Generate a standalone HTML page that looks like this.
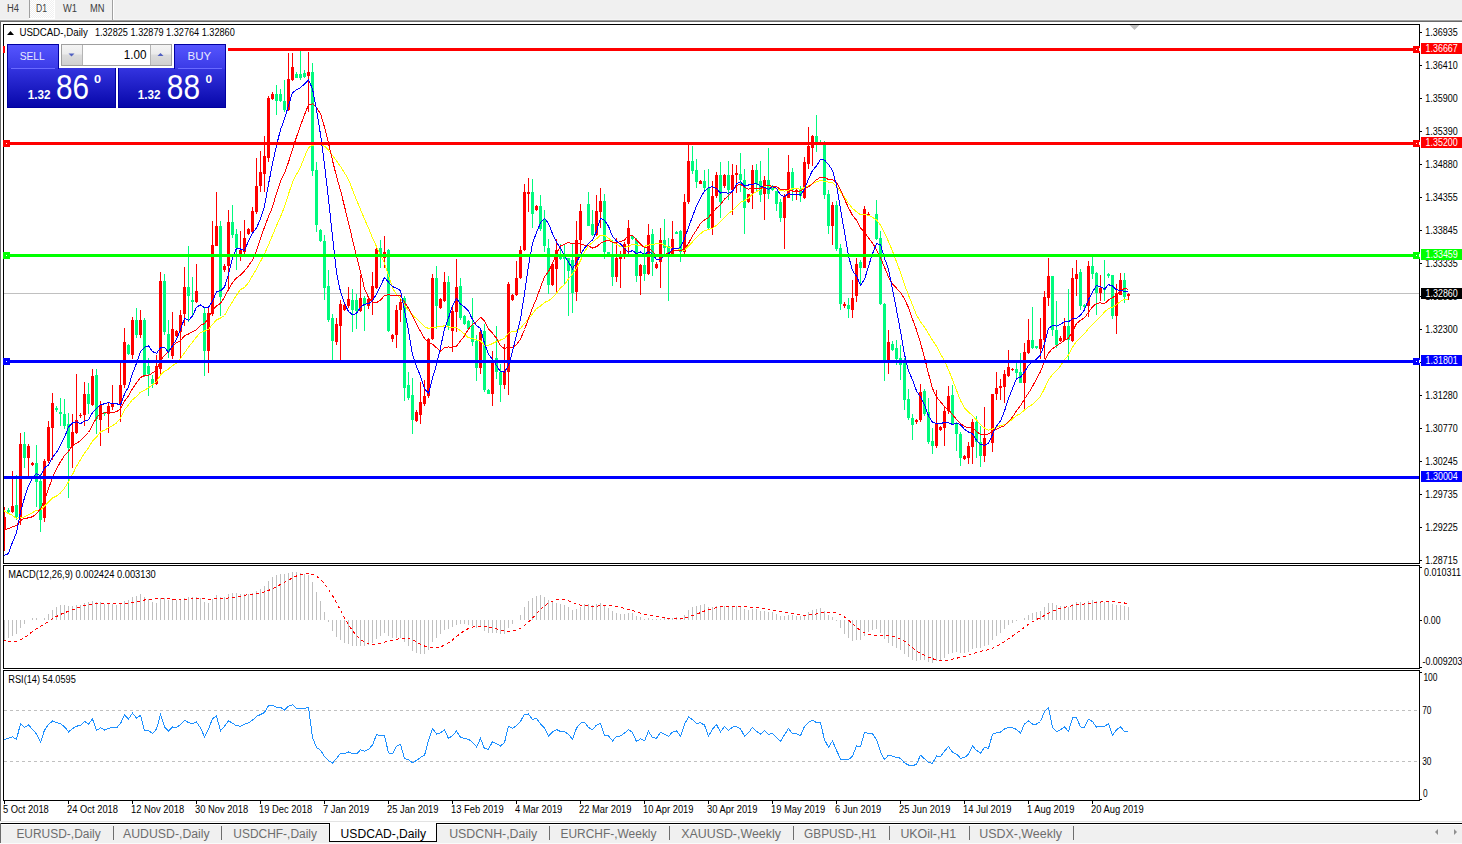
<!DOCTYPE html><html><head><meta charset="utf-8"><style>
html,body{margin:0;padding:0;background:#fff;overflow:hidden}
svg{display:block} text{font-family:"Liberation Sans",sans-serif}
</style></head><body><svg width="1462" height="844" viewBox="0 0 1462 844" font-family="Liberation Sans"><rect x="0" y="0" width="1462" height="844" fill="#fff" /><rect x="0" y="0" width="1462" height="19" fill="#f0f0f0" /><rect x="0" y="19" width="1462" height="1" fill="#f5f5f5" /><rect x="0" y="20" width="1462" height="1" fill="#a0a0a0" /><rect x="0" y="21" width="1462" height="1" fill="#696969" /><defs><pattern id="dith" width="2" height="2" patternUnits="userSpaceOnUse"><rect width="2" height="2" fill="#f0f0f0"/><rect width="1" height="1" fill="#fff"/><rect x="1" y="1" width="1" height="1" fill="#fff"/></pattern></defs><rect x="30" y="0" width="24" height="18" fill="url(#dith)" /><rect x="29" y="0" width="1" height="18" fill="#a0a0a0" /><rect x="112" y="0" width="1" height="20" fill="#a0a0a0" /><rect x="113" y="0" width="1" height="19" fill="#fff" /><rect x="29" y="18" width="26" height="1" fill="#fff" /><rect x="54" y="0" width="1" height="18" fill="#fff" /><text x="7" y="12.4" font-size="10" fill="#404040" textLength="12" lengthAdjust="spacingAndGlyphs" >H4</text><text x="36" y="12.4" font-size="10" fill="#404040" textLength="11" lengthAdjust="spacingAndGlyphs" >D1</text><text x="63" y="12.4" font-size="10" fill="#404040" textLength="14" lengthAdjust="spacingAndGlyphs" >W1</text><text x="90" y="12.4" font-size="10" fill="#404040" textLength="14.5" lengthAdjust="spacingAndGlyphs" >MN</text><rect x="0" y="22" width="1" height="800" fill="#6a6a6a" /><rect x="3" y="24" width="1417" height="1" fill="#000" /><rect x="3" y="563" width="1417" height="1" fill="#000" /><rect x="3" y="24" width="1" height="540" fill="#000" /><rect x="1419" y="24" width="1" height="540" fill="#000" /><rect x="3" y="565" width="1417" height="1" fill="#000" /><rect x="3" y="668" width="1417" height="1" fill="#000" /><rect x="3" y="565" width="1" height="104" fill="#000" /><rect x="1419" y="565" width="1" height="104" fill="#000" /><rect x="3" y="670" width="1417" height="1" fill="#000" /><rect x="3" y="800" width="1417" height="1" fill="#000" /><rect x="3" y="670" width="1" height="131" fill="#000" /><rect x="1419" y="670" width="1" height="131" fill="#000" /><defs><clipPath id="cm"><rect x="4" y="25" width="1415" height="538"/></clipPath><clipPath id="cmacd"><rect x="4" y="566" width="1415" height="102"/></clipPath><clipPath id="crsi"><rect x="4" y="671" width="1415" height="129"/></clipPath></defs><g clip-path="url(#cm)" shape-rendering="crispEdges"><rect x="4" y="293" width="1415" height="1" fill="#c0c0c0" /><rect x="4" y="507" width="1" height="44" fill="#ff0000" /><rect x="3" y="517" width="3" height="12" fill="#ff0000" /><rect x="8" y="508" width="1" height="5" fill="#00fa7e" /><rect x="7" y="510" width="3" height="2" fill="#00fa7e" /><rect x="12" y="471" width="1" height="42" fill="#ff0000" /><rect x="11" y="506" width="3" height="6" fill="#ff0000" /><rect x="16" y="475" width="1" height="45" fill="#00fa7e" /><rect x="15" y="505" width="3" height="12" fill="#00fa7e" /><rect x="20" y="433" width="1" height="92" fill="#ff0000" /><rect x="19" y="444" width="3" height="73" fill="#ff0000" /><rect x="24" y="432" width="1" height="36" fill="#00fa7e" /><rect x="23" y="444" width="3" height="14" fill="#00fa7e" /><rect x="28" y="444" width="1" height="32" fill="#ff0000" /><rect x="27" y="446" width="3" height="12" fill="#ff0000" /><rect x="32" y="462" width="1" height="4" fill="#ff0000" /><rect x="31" y="463" width="3" height="2" fill="#ff0000" /><rect x="36" y="445" width="1" height="62" fill="#00fa7e" /><rect x="35" y="463" width="3" height="19" fill="#00fa7e" /><rect x="40" y="474" width="1" height="58" fill="#00fa7e" /><rect x="39" y="481" width="3" height="39" fill="#00fa7e" /><rect x="44" y="459" width="1" height="63" fill="#ff0000" /><rect x="43" y="461" width="3" height="57" fill="#ff0000" /><rect x="48" y="421" width="1" height="42" fill="#ff0000" /><rect x="47" y="427" width="3" height="34" fill="#ff0000" /><rect x="52" y="393" width="1" height="67" fill="#ff0000" /><rect x="51" y="403" width="3" height="25" fill="#ff0000" /><rect x="56" y="406" width="1" height="6" fill="#00fa7e" /><rect x="55" y="408" width="3" height="2" fill="#00fa7e" /><rect x="60" y="398" width="1" height="28" fill="#00fa7e" /><rect x="59" y="412" width="3" height="2" fill="#00fa7e" /><rect x="64" y="399" width="1" height="30" fill="#00fa7e" /><rect x="63" y="414" width="3" height="12" fill="#00fa7e" /><rect x="68" y="413" width="1" height="85" fill="#00fa7e" /><rect x="67" y="424" width="3" height="24" fill="#00fa7e" /><rect x="72" y="414" width="1" height="54" fill="#ff0000" /><rect x="71" y="432" width="3" height="14" fill="#ff0000" /><rect x="76" y="374" width="1" height="60" fill="#ff0000" /><rect x="75" y="420" width="3" height="13" fill="#ff0000" /><rect x="80" y="413" width="1" height="5" fill="#ff0000" /><rect x="79" y="415" width="3" height="1" fill="#ff0000" /><rect x="84" y="382" width="1" height="44" fill="#ff0000" /><rect x="83" y="394" width="3" height="21" fill="#ff0000" /><rect x="88" y="383" width="1" height="31" fill="#00fa7e" /><rect x="87" y="394" width="3" height="10" fill="#00fa7e" /><rect x="92" y="369" width="1" height="37" fill="#ff0000" /><rect x="91" y="376" width="3" height="29" fill="#ff0000" /><rect x="96" y="369" width="1" height="65" fill="#00fa7e" /><rect x="95" y="375" width="3" height="44" fill="#00fa7e" /><rect x="100" y="401" width="1" height="45" fill="#ff0000" /><rect x="99" y="405" width="3" height="15" fill="#ff0000" /><rect x="104" y="412" width="1" height="4" fill="#00fa7e" /><rect x="103" y="412" width="3" height="2" fill="#00fa7e" /><rect x="108" y="402" width="1" height="31" fill="#ff0000" /><rect x="107" y="406" width="3" height="8" fill="#ff0000" /><rect x="112" y="385" width="1" height="25" fill="#ff0000" /><rect x="111" y="403" width="3" height="4" fill="#ff0000" /><rect x="120" y="362" width="1" height="60" fill="#ff0000" /><rect x="119" y="385" width="3" height="20" fill="#ff0000" /><rect x="124" y="328" width="1" height="60" fill="#ff0000" /><rect x="123" y="342" width="3" height="43" fill="#ff0000" /><rect x="128" y="344" width="1" height="11" fill="#00fa7e" /><rect x="127" y="345" width="3" height="9" fill="#00fa7e" /><rect x="132" y="317" width="1" height="42" fill="#ff0000" /><rect x="131" y="320" width="3" height="35" fill="#ff0000" /><rect x="136" y="308" width="1" height="30" fill="#00fa7e" /><rect x="135" y="320" width="3" height="15" fill="#00fa7e" /><rect x="140" y="310" width="1" height="28" fill="#ff0000" /><rect x="139" y="320" width="3" height="15" fill="#ff0000" /><rect x="144" y="318" width="1" height="59" fill="#00fa7e" /><rect x="143" y="320" width="3" height="55" fill="#00fa7e" /><rect x="148" y="358" width="1" height="38" fill="#00fa7e" /><rect x="147" y="366" width="3" height="8" fill="#00fa7e" /><rect x="152" y="375" width="1" height="13" fill="#00fa7e" /><rect x="151" y="379" width="3" height="5" fill="#00fa7e" /><rect x="156" y="355" width="1" height="30" fill="#ff0000" /><rect x="155" y="366" width="3" height="18" fill="#ff0000" /><rect x="160" y="272" width="1" height="103" fill="#ff0000" /><rect x="159" y="281" width="3" height="88" fill="#ff0000" /><rect x="164" y="274" width="1" height="61" fill="#00fa7e" /><rect x="163" y="281" width="3" height="51" fill="#00fa7e" /><rect x="168" y="320" width="1" height="38" fill="#00fa7e" /><rect x="167" y="334" width="3" height="18" fill="#00fa7e" /><rect x="172" y="312" width="1" height="47" fill="#ff0000" /><rect x="171" y="329" width="3" height="27" fill="#ff0000" /><rect x="176" y="330" width="1" height="7" fill="#ff0000" /><rect x="175" y="331" width="3" height="5" fill="#ff0000" /><rect x="180" y="310" width="1" height="49" fill="#ff0000" /><rect x="179" y="315" width="3" height="17" fill="#ff0000" /><rect x="184" y="267" width="1" height="59" fill="#ff0000" /><rect x="183" y="287" width="3" height="27" fill="#ff0000" /><rect x="188" y="246" width="1" height="76" fill="#00fa7e" /><rect x="187" y="287" width="3" height="9" fill="#00fa7e" /><rect x="192" y="277" width="1" height="39" fill="#00fa7e" /><rect x="191" y="300" width="3" height="2" fill="#00fa7e" /><rect x="196" y="264" width="1" height="39" fill="#ff0000" /><rect x="195" y="291" width="3" height="11" fill="#ff0000" /><rect x="204" y="307" width="1" height="69" fill="#00fa7e" /><rect x="203" y="313" width="3" height="38" fill="#00fa7e" /><rect x="208" y="308" width="1" height="65" fill="#ff0000" /><rect x="207" y="313" width="3" height="38" fill="#ff0000" /><rect x="212" y="221" width="1" height="95" fill="#ff0000" /><rect x="211" y="245" width="3" height="69" fill="#ff0000" /><rect x="216" y="192" width="1" height="54" fill="#ff0000" /><rect x="215" y="226" width="3" height="20" fill="#ff0000" /><rect x="220" y="221" width="1" height="95" fill="#00fa7e" /><rect x="219" y="226" width="3" height="71" fill="#00fa7e" /><rect x="224" y="264" width="1" height="8" fill="#ff0000" /><rect x="223" y="266" width="3" height="4" fill="#ff0000" /><rect x="228" y="210" width="1" height="79" fill="#ff0000" /><rect x="227" y="222" width="3" height="44" fill="#ff0000" /><rect x="232" y="205" width="1" height="33" fill="#00fa7e" /><rect x="231" y="222" width="3" height="13" fill="#00fa7e" /><rect x="236" y="229" width="1" height="41" fill="#00fa7e" /><rect x="235" y="234" width="3" height="14" fill="#00fa7e" /><rect x="240" y="231" width="1" height="30" fill="#ff0000" /><rect x="239" y="250" width="3" height="4" fill="#ff0000" /><rect x="244" y="220" width="1" height="34" fill="#ff0000" /><rect x="243" y="238" width="3" height="14" fill="#ff0000" /><rect x="248" y="228" width="1" height="7" fill="#ff0000" /><rect x="247" y="229" width="3" height="5" fill="#ff0000" /><rect x="252" y="207" width="1" height="27" fill="#ff0000" /><rect x="251" y="211" width="3" height="21" fill="#ff0000" /><rect x="256" y="158" width="1" height="56" fill="#ff0000" /><rect x="255" y="186" width="3" height="26" fill="#ff0000" /><rect x="260" y="151" width="1" height="41" fill="#ff0000" /><rect x="259" y="172" width="3" height="14" fill="#ff0000" /><rect x="264" y="136" width="1" height="56" fill="#ff0000" /><rect x="263" y="156" width="3" height="18" fill="#ff0000" /><rect x="268" y="96" width="1" height="66" fill="#ff0000" /><rect x="267" y="98" width="3" height="60" fill="#ff0000" /><rect x="272" y="92" width="1" height="8" fill="#ff0000" /><rect x="271" y="94" width="3" height="5" fill="#ff0000" /><rect x="276" y="85" width="1" height="30" fill="#00fa7e" /><rect x="275" y="94" width="3" height="7" fill="#00fa7e" /><rect x="280" y="89" width="1" height="13" fill="#00fa7e" /><rect x="279" y="94" width="3" height="7" fill="#00fa7e" /><rect x="284" y="80" width="1" height="32" fill="#00fa7e" /><rect x="283" y="101" width="3" height="9" fill="#00fa7e" /><rect x="288" y="53" width="1" height="58" fill="#ff0000" /><rect x="287" y="79" width="3" height="31" fill="#ff0000" /><rect x="292" y="53" width="1" height="28" fill="#ff0000" /><rect x="291" y="67" width="3" height="13" fill="#ff0000" /><rect x="296" y="72" width="1" height="6" fill="#00fa7e" /><rect x="295" y="74" width="3" height="4" fill="#00fa7e" /><rect x="300" y="51" width="1" height="29" fill="#00fa7e" /><rect x="299" y="74" width="3" height="4" fill="#00fa7e" /><rect x="304" y="70" width="1" height="8" fill="#00fa7e" /><rect x="303" y="73" width="3" height="4" fill="#00fa7e" /><rect x="308" y="52" width="1" height="60" fill="#ff0000" /><rect x="307" y="72" width="3" height="4" fill="#ff0000" /><rect x="312" y="63" width="1" height="113" fill="#00fa7e" /><rect x="311" y="72" width="3" height="99" fill="#00fa7e" /><rect x="316" y="162" width="1" height="70" fill="#00fa7e" /><rect x="315" y="170" width="3" height="55" fill="#00fa7e" /><rect x="320" y="229" width="1" height="13" fill="#00fa7e" /><rect x="319" y="230" width="3" height="11" fill="#00fa7e" /><rect x="324" y="235" width="1" height="65" fill="#00fa7e" /><rect x="323" y="241" width="3" height="47" fill="#00fa7e" /><rect x="328" y="270" width="1" height="52" fill="#00fa7e" /><rect x="327" y="286" width="3" height="34" fill="#00fa7e" /><rect x="332" y="314" width="1" height="46" fill="#00fa7e" /><rect x="331" y="318" width="3" height="23" fill="#00fa7e" /><rect x="336" y="318" width="1" height="27" fill="#ff0000" /><rect x="335" y="324" width="3" height="18" fill="#ff0000" /><rect x="340" y="300" width="1" height="60" fill="#ff0000" /><rect x="339" y="304" width="3" height="22" fill="#ff0000" /><rect x="344" y="302" width="1" height="9" fill="#ff0000" /><rect x="343" y="305" width="3" height="5" fill="#ff0000" /><rect x="348" y="287" width="1" height="21" fill="#ff0000" /><rect x="347" y="299" width="3" height="7" fill="#ff0000" /><rect x="352" y="289" width="1" height="43" fill="#00fa7e" /><rect x="351" y="300" width="3" height="10" fill="#00fa7e" /><rect x="356" y="294" width="1" height="35" fill="#00fa7e" /><rect x="355" y="300" width="3" height="11" fill="#00fa7e" /><rect x="360" y="275" width="1" height="37" fill="#ff0000" /><rect x="359" y="298" width="3" height="13" fill="#ff0000" /><rect x="364" y="296" width="1" height="35" fill="#00fa7e" /><rect x="363" y="298" width="3" height="6" fill="#00fa7e" /><rect x="368" y="298" width="1" height="11" fill="#ff0000" /><rect x="367" y="299" width="3" height="7" fill="#ff0000" /><rect x="372" y="272" width="1" height="43" fill="#ff0000" /><rect x="371" y="286" width="3" height="14" fill="#ff0000" /><rect x="376" y="248" width="1" height="41" fill="#ff0000" /><rect x="375" y="249" width="3" height="39" fill="#ff0000" /><rect x="380" y="240" width="1" height="28" fill="#00fa7e" /><rect x="379" y="248" width="3" height="6" fill="#00fa7e" /><rect x="384" y="236" width="1" height="32" fill="#ff0000" /><rect x="383" y="252" width="3" height="6" fill="#ff0000" /><rect x="388" y="249" width="1" height="83" fill="#00fa7e" /><rect x="387" y="250" width="3" height="81" fill="#00fa7e" /><rect x="392" y="334" width="1" height="8" fill="#ff0000" /><rect x="391" y="335" width="3" height="4" fill="#ff0000" /><rect x="396" y="305" width="1" height="43" fill="#ff0000" /><rect x="395" y="310" width="3" height="25" fill="#ff0000" /><rect x="400" y="299" width="1" height="23" fill="#ff0000" /><rect x="399" y="302" width="3" height="8" fill="#ff0000" /><rect x="404" y="296" width="1" height="105" fill="#00fa7e" /><rect x="403" y="298" width="3" height="90" fill="#00fa7e" /><rect x="408" y="372" width="1" height="28" fill="#00fa7e" /><rect x="407" y="385" width="3" height="13" fill="#00fa7e" /><rect x="412" y="378" width="1" height="56" fill="#00fa7e" /><rect x="411" y="395" width="3" height="25" fill="#00fa7e" /><rect x="416" y="410" width="1" height="12" fill="#ff0000" /><rect x="415" y="412" width="3" height="9" fill="#ff0000" /><rect x="420" y="382" width="1" height="42" fill="#ff0000" /><rect x="419" y="402" width="3" height="13" fill="#ff0000" /><rect x="424" y="380" width="1" height="26" fill="#ff0000" /><rect x="423" y="396" width="3" height="8" fill="#ff0000" /><rect x="428" y="338" width="1" height="60" fill="#ff0000" /><rect x="427" y="339" width="3" height="57" fill="#ff0000" /><rect x="432" y="274" width="1" height="66" fill="#ff0000" /><rect x="431" y="278" width="3" height="61" fill="#ff0000" /><rect x="436" y="266" width="1" height="63" fill="#00fa7e" /><rect x="435" y="278" width="3" height="28" fill="#00fa7e" /><rect x="440" y="298" width="1" height="11" fill="#ff0000" /><rect x="439" y="299" width="3" height="9" fill="#ff0000" /><rect x="444" y="272" width="1" height="30" fill="#ff0000" /><rect x="443" y="282" width="3" height="19" fill="#ff0000" /><rect x="448" y="276" width="1" height="54" fill="#00fa7e" /><rect x="447" y="282" width="3" height="44" fill="#00fa7e" /><rect x="452" y="307" width="1" height="45" fill="#ff0000" /><rect x="451" y="311" width="3" height="20" fill="#ff0000" /><rect x="456" y="259" width="1" height="73" fill="#ff0000" /><rect x="455" y="287" width="3" height="25" fill="#ff0000" /><rect x="460" y="278" width="1" height="42" fill="#00fa7e" /><rect x="459" y="286" width="3" height="32" fill="#00fa7e" /><rect x="464" y="315" width="1" height="10" fill="#00fa7e" /><rect x="463" y="316" width="3" height="8" fill="#00fa7e" /><rect x="468" y="320" width="1" height="10" fill="#00fa7e" /><rect x="467" y="321" width="3" height="8" fill="#00fa7e" /><rect x="472" y="298" width="1" height="48" fill="#00fa7e" /><rect x="471" y="325" width="3" height="17" fill="#00fa7e" /><rect x="476" y="335" width="1" height="46" fill="#00fa7e" /><rect x="475" y="341" width="3" height="27" fill="#00fa7e" /><rect x="480" y="328" width="1" height="46" fill="#ff0000" /><rect x="479" y="332" width="3" height="36" fill="#ff0000" /><rect x="484" y="324" width="1" height="68" fill="#00fa7e" /><rect x="483" y="331" width="3" height="59" fill="#00fa7e" /><rect x="488" y="389" width="1" height="5" fill="#00fa7e" /><rect x="487" y="390" width="3" height="4" fill="#00fa7e" /><rect x="492" y="351" width="1" height="55" fill="#ff0000" /><rect x="491" y="360" width="3" height="34" fill="#ff0000" /><rect x="496" y="326" width="1" height="53" fill="#00fa7e" /><rect x="495" y="358" width="3" height="14" fill="#00fa7e" /><rect x="500" y="364" width="1" height="38" fill="#00fa7e" /><rect x="499" y="372" width="3" height="13" fill="#00fa7e" /><rect x="504" y="344" width="1" height="45" fill="#ff0000" /><rect x="503" y="371" width="3" height="14" fill="#ff0000" /><rect x="508" y="282" width="1" height="113" fill="#ff0000" /><rect x="507" y="284" width="3" height="88" fill="#ff0000" /><rect x="512" y="294" width="1" height="7" fill="#ff0000" /><rect x="511" y="295" width="3" height="5" fill="#ff0000" /><rect x="516" y="261" width="1" height="35" fill="#ff0000" /><rect x="515" y="278" width="3" height="17" fill="#ff0000" /><rect x="520" y="246" width="1" height="33" fill="#ff0000" /><rect x="519" y="250" width="3" height="28" fill="#ff0000" /><rect x="524" y="184" width="1" height="67" fill="#ff0000" /><rect x="523" y="192" width="3" height="58" fill="#ff0000" /><rect x="528" y="178" width="1" height="34" fill="#ff0000" /><rect x="527" y="192" width="3" height="2" fill="#ff0000" /><rect x="532" y="179" width="1" height="49" fill="#00fa7e" /><rect x="531" y="192" width="3" height="22" fill="#00fa7e" /><rect x="536" y="205" width="1" height="6" fill="#ff0000" /><rect x="535" y="206" width="3" height="4" fill="#ff0000" /><rect x="540" y="195" width="1" height="36" fill="#00fa7e" /><rect x="539" y="206" width="3" height="23" fill="#00fa7e" /><rect x="544" y="210" width="1" height="42" fill="#00fa7e" /><rect x="543" y="219" width="3" height="27" fill="#00fa7e" /><rect x="548" y="239" width="1" height="55" fill="#00fa7e" /><rect x="547" y="248" width="3" height="37" fill="#00fa7e" /><rect x="552" y="262" width="1" height="24" fill="#ff0000" /><rect x="551" y="264" width="3" height="21" fill="#ff0000" /><rect x="556" y="239" width="1" height="53" fill="#ff0000" /><rect x="555" y="250" width="3" height="19" fill="#ff0000" /><rect x="560" y="244" width="1" height="16" fill="#00fa7e" /><rect x="559" y="255" width="3" height="4" fill="#00fa7e" /><rect x="564" y="244" width="1" height="41" fill="#00fa7e" /><rect x="563" y="256" width="3" height="3" fill="#00fa7e" /><rect x="568" y="258" width="1" height="58" fill="#00fa7e" /><rect x="567" y="258" width="3" height="13" fill="#00fa7e" /><rect x="572" y="244" width="1" height="69" fill="#00fa7e" /><rect x="571" y="260" width="3" height="33" fill="#00fa7e" /><rect x="576" y="221" width="1" height="80" fill="#ff0000" /><rect x="575" y="240" width="3" height="52" fill="#ff0000" /><rect x="580" y="204" width="1" height="49" fill="#ff0000" /><rect x="579" y="211" width="3" height="29" fill="#ff0000" /><rect x="588" y="192" width="1" height="34" fill="#00fa7e" /><rect x="587" y="204" width="3" height="22" fill="#00fa7e" /><rect x="592" y="210" width="1" height="26" fill="#00fa7e" /><rect x="591" y="224" width="3" height="11" fill="#00fa7e" /><rect x="596" y="195" width="1" height="41" fill="#ff0000" /><rect x="595" y="211" width="3" height="24" fill="#ff0000" /><rect x="600" y="188" width="1" height="40" fill="#ff0000" /><rect x="599" y="201" width="3" height="11" fill="#ff0000" /><rect x="604" y="194" width="1" height="65" fill="#00fa7e" /><rect x="603" y="201" width="3" height="51" fill="#00fa7e" /><rect x="608" y="252" width="1" height="2" fill="#00fa7e" /><rect x="607" y="252" width="3" height="2" fill="#00fa7e" /><rect x="612" y="240" width="1" height="46" fill="#00fa7e" /><rect x="611" y="254" width="3" height="23" fill="#00fa7e" /><rect x="616" y="238" width="1" height="44" fill="#ff0000" /><rect x="615" y="258" width="3" height="19" fill="#ff0000" /><rect x="620" y="251" width="1" height="37" fill="#ff0000" /><rect x="619" y="255" width="3" height="4" fill="#ff0000" /><rect x="624" y="242" width="1" height="17" fill="#ff0000" /><rect x="623" y="244" width="3" height="10" fill="#ff0000" /><rect x="628" y="220" width="1" height="34" fill="#ff0000" /><rect x="627" y="228" width="3" height="16" fill="#ff0000" /><rect x="632" y="235" width="1" height="5" fill="#00fa7e" /><rect x="631" y="236" width="3" height="3" fill="#00fa7e" /><rect x="636" y="238" width="1" height="44" fill="#00fa7e" /><rect x="635" y="240" width="3" height="36" fill="#00fa7e" /><rect x="640" y="264" width="1" height="31" fill="#ff0000" /><rect x="639" y="265" width="3" height="11" fill="#ff0000" /><rect x="644" y="246" width="1" height="35" fill="#00fa7e" /><rect x="643" y="265" width="3" height="9" fill="#00fa7e" /><rect x="648" y="224" width="1" height="51" fill="#ff0000" /><rect x="647" y="235" width="3" height="39" fill="#ff0000" /><rect x="652" y="229" width="1" height="47" fill="#00fa7e" /><rect x="651" y="234" width="3" height="28" fill="#00fa7e" /><rect x="656" y="262" width="1" height="7" fill="#ff0000" /><rect x="655" y="264" width="3" height="4" fill="#ff0000" /><rect x="660" y="228" width="1" height="60" fill="#ff0000" /><rect x="659" y="240" width="3" height="22" fill="#ff0000" /><rect x="664" y="219" width="1" height="36" fill="#00fa7e" /><rect x="663" y="240" width="3" height="8" fill="#00fa7e" /><rect x="668" y="238" width="1" height="63" fill="#00fa7e" /><rect x="667" y="246" width="3" height="9" fill="#00fa7e" /><rect x="672" y="221" width="1" height="34" fill="#ff0000" /><rect x="671" y="239" width="3" height="15" fill="#ff0000" /><rect x="676" y="231" width="1" height="3" fill="#00fa7e" /><rect x="675" y="232" width="3" height="2" fill="#00fa7e" /><rect x="680" y="230" width="1" height="32" fill="#00fa7e" /><rect x="679" y="231" width="3" height="21" fill="#00fa7e" /><rect x="684" y="194" width="1" height="60" fill="#ff0000" /><rect x="683" y="202" width="3" height="50" fill="#ff0000" /><rect x="688" y="145" width="1" height="59" fill="#ff0000" /><rect x="687" y="161" width="3" height="41" fill="#ff0000" /><rect x="692" y="146" width="1" height="28" fill="#00fa7e" /><rect x="691" y="161" width="3" height="10" fill="#00fa7e" /><rect x="696" y="159" width="1" height="29" fill="#00fa7e" /><rect x="695" y="170" width="3" height="12" fill="#00fa7e" /><rect x="700" y="180" width="1" height="4" fill="#ff0000" /><rect x="699" y="181" width="3" height="3" fill="#ff0000" /><rect x="704" y="170" width="1" height="21" fill="#00fa7e" /><rect x="703" y="181" width="3" height="7" fill="#00fa7e" /><rect x="708" y="169" width="1" height="60" fill="#00fa7e" /><rect x="707" y="188" width="3" height="40" fill="#00fa7e" /><rect x="712" y="181" width="1" height="54" fill="#ff0000" /><rect x="711" y="196" width="3" height="32" fill="#ff0000" /><rect x="716" y="172" width="1" height="26" fill="#ff0000" /><rect x="715" y="175" width="3" height="21" fill="#ff0000" /><rect x="720" y="162" width="1" height="56" fill="#00fa7e" /><rect x="719" y="175" width="3" height="27" fill="#00fa7e" /><rect x="724" y="174" width="1" height="14" fill="#ff0000" /><rect x="723" y="175" width="3" height="11" fill="#ff0000" /><rect x="728" y="161" width="1" height="39" fill="#00fa7e" /><rect x="727" y="175" width="3" height="15" fill="#00fa7e" /><rect x="732" y="164" width="1" height="51" fill="#ff0000" /><rect x="731" y="175" width="3" height="15" fill="#ff0000" /><rect x="736" y="165" width="1" height="28" fill="#ff0000" /><rect x="735" y="173" width="3" height="2" fill="#ff0000" /><rect x="740" y="153" width="1" height="39" fill="#00fa7e" /><rect x="739" y="174" width="3" height="6" fill="#00fa7e" /><rect x="744" y="169" width="1" height="65" fill="#00fa7e" /><rect x="743" y="180" width="3" height="28" fill="#00fa7e" /><rect x="748" y="194" width="1" height="9" fill="#ff0000" /><rect x="747" y="194" width="3" height="8" fill="#ff0000" /><rect x="752" y="165" width="1" height="44" fill="#ff0000" /><rect x="751" y="170" width="3" height="23" fill="#ff0000" /><rect x="756" y="164" width="1" height="27" fill="#00fa7e" /><rect x="755" y="170" width="3" height="14" fill="#00fa7e" /><rect x="760" y="161" width="1" height="41" fill="#00fa7e" /><rect x="759" y="181" width="3" height="14" fill="#00fa7e" /><rect x="764" y="176" width="1" height="44" fill="#ff0000" /><rect x="763" y="180" width="3" height="14" fill="#ff0000" /><rect x="768" y="148" width="1" height="51" fill="#00fa7e" /><rect x="767" y="180" width="3" height="14" fill="#00fa7e" /><rect x="772" y="185" width="1" height="6" fill="#00fa7e" /><rect x="771" y="186" width="3" height="4" fill="#00fa7e" /><rect x="776" y="191" width="1" height="20" fill="#00fa7e" /><rect x="775" y="191" width="3" height="13" fill="#00fa7e" /><rect x="780" y="199" width="1" height="23" fill="#00fa7e" /><rect x="779" y="202" width="3" height="16" fill="#00fa7e" /><rect x="784" y="194" width="1" height="55" fill="#ff0000" /><rect x="783" y="196" width="3" height="22" fill="#ff0000" /><rect x="788" y="155" width="1" height="43" fill="#ff0000" /><rect x="787" y="172" width="3" height="26" fill="#ff0000" /><rect x="792" y="168" width="1" height="33" fill="#00fa7e" /><rect x="791" y="172" width="3" height="18" fill="#00fa7e" /><rect x="796" y="189" width="1" height="11" fill="#ff0000" /><rect x="795" y="190" width="3" height="2" fill="#ff0000" /><rect x="800" y="186" width="1" height="16" fill="#00fa7e" /><rect x="799" y="189" width="3" height="7" fill="#00fa7e" /><rect x="804" y="157" width="1" height="42" fill="#ff0000" /><rect x="803" y="162" width="3" height="36" fill="#ff0000" /><rect x="808" y="127" width="1" height="42" fill="#ff0000" /><rect x="807" y="146" width="3" height="18" fill="#ff0000" /><rect x="812" y="135" width="1" height="31" fill="#ff0000" /><rect x="811" y="136" width="3" height="12" fill="#ff0000" /><rect x="816" y="115" width="1" height="37" fill="#00fa7e" /><rect x="815" y="136" width="3" height="6" fill="#00fa7e" /><rect x="820" y="140" width="1" height="4" fill="#00fa7e" /><rect x="819" y="142" width="3" height="1" fill="#00fa7e" /><rect x="824" y="141" width="1" height="58" fill="#00fa7e" /><rect x="823" y="142" width="3" height="53" fill="#00fa7e" /><rect x="828" y="190" width="1" height="44" fill="#00fa7e" /><rect x="827" y="194" width="3" height="32" fill="#00fa7e" /><rect x="832" y="202" width="1" height="43" fill="#ff0000" /><rect x="831" y="205" width="3" height="21" fill="#ff0000" /><rect x="836" y="201" width="1" height="50" fill="#00fa7e" /><rect x="835" y="205" width="3" height="44" fill="#00fa7e" /><rect x="840" y="244" width="1" height="66" fill="#00fa7e" /><rect x="839" y="248" width="3" height="56" fill="#00fa7e" /><rect x="844" y="302" width="1" height="6" fill="#ff0000" /><rect x="843" y="304" width="3" height="2" fill="#ff0000" /><rect x="848" y="298" width="1" height="20" fill="#00fa7e" /><rect x="847" y="305" width="3" height="4" fill="#00fa7e" /><rect x="852" y="280" width="1" height="38" fill="#ff0000" /><rect x="851" y="298" width="3" height="12" fill="#ff0000" /><rect x="856" y="258" width="1" height="44" fill="#ff0000" /><rect x="855" y="264" width="3" height="32" fill="#ff0000" /><rect x="860" y="260" width="1" height="25" fill="#00fa7e" /><rect x="859" y="262" width="3" height="6" fill="#00fa7e" /><rect x="864" y="206" width="1" height="62" fill="#ff0000" /><rect x="863" y="209" width="3" height="59" fill="#ff0000" /><rect x="868" y="212" width="1" height="4" fill="#ff0000" /><rect x="867" y="214" width="3" height="1" fill="#ff0000" /><rect x="876" y="200" width="1" height="40" fill="#00fa7e" /><rect x="875" y="214" width="3" height="25" fill="#00fa7e" /><rect x="880" y="231" width="1" height="74" fill="#00fa7e" /><rect x="879" y="238" width="3" height="66" fill="#00fa7e" /><rect x="884" y="303" width="1" height="78" fill="#00fa7e" /><rect x="883" y="304" width="3" height="56" fill="#00fa7e" /><rect x="888" y="330" width="1" height="44" fill="#ff0000" /><rect x="887" y="342" width="3" height="18" fill="#ff0000" /><rect x="892" y="341" width="1" height="10" fill="#00fa7e" /><rect x="891" y="344" width="3" height="6" fill="#00fa7e" /><rect x="896" y="340" width="1" height="25" fill="#00fa7e" /><rect x="895" y="348" width="3" height="11" fill="#00fa7e" /><rect x="900" y="345" width="1" height="35" fill="#00fa7e" /><rect x="899" y="358" width="3" height="7" fill="#00fa7e" /><rect x="904" y="358" width="1" height="52" fill="#00fa7e" /><rect x="903" y="361" width="3" height="39" fill="#00fa7e" /><rect x="908" y="389" width="1" height="31" fill="#00fa7e" /><rect x="907" y="399" width="3" height="19" fill="#00fa7e" /><rect x="912" y="414" width="1" height="26" fill="#00fa7e" /><rect x="911" y="418" width="3" height="7" fill="#00fa7e" /><rect x="916" y="419" width="1" height="5" fill="#ff0000" /><rect x="915" y="420" width="3" height="2" fill="#ff0000" /><rect x="920" y="384" width="1" height="38" fill="#ff0000" /><rect x="919" y="392" width="3" height="28" fill="#ff0000" /><rect x="924" y="389" width="1" height="27" fill="#00fa7e" /><rect x="923" y="391" width="3" height="23" fill="#00fa7e" /><rect x="928" y="398" width="1" height="46" fill="#00fa7e" /><rect x="927" y="412" width="3" height="30" fill="#00fa7e" /><rect x="932" y="428" width="1" height="26" fill="#00fa7e" /><rect x="931" y="441" width="3" height="5" fill="#00fa7e" /><rect x="936" y="390" width="1" height="58" fill="#ff0000" /><rect x="935" y="424" width="3" height="22" fill="#ff0000" /><rect x="940" y="426" width="1" height="5" fill="#ff0000" /><rect x="939" y="427" width="3" height="3" fill="#ff0000" /><rect x="944" y="406" width="1" height="40" fill="#ff0000" /><rect x="943" y="411" width="3" height="17" fill="#ff0000" /><rect x="948" y="386" width="1" height="28" fill="#ff0000" /><rect x="947" y="396" width="3" height="15" fill="#ff0000" /><rect x="952" y="385" width="1" height="40" fill="#00fa7e" /><rect x="951" y="395" width="3" height="29" fill="#00fa7e" /><rect x="956" y="422" width="1" height="29" fill="#00fa7e" /><rect x="955" y="424" width="3" height="10" fill="#00fa7e" /><rect x="960" y="432" width="1" height="34" fill="#00fa7e" /><rect x="959" y="434" width="3" height="24" fill="#00fa7e" /><rect x="964" y="455" width="1" height="5" fill="#ff0000" /><rect x="963" y="456" width="3" height="3" fill="#ff0000" /><rect x="968" y="442" width="1" height="22" fill="#ff0000" /><rect x="967" y="446" width="3" height="12" fill="#ff0000" /><rect x="972" y="419" width="1" height="45" fill="#ff0000" /><rect x="971" y="422" width="3" height="25" fill="#ff0000" /><rect x="976" y="416" width="1" height="42" fill="#00fa7e" /><rect x="975" y="422" width="3" height="20" fill="#00fa7e" /><rect x="980" y="426" width="1" height="41" fill="#00fa7e" /><rect x="979" y="442" width="3" height="14" fill="#00fa7e" /><rect x="984" y="407" width="1" height="55" fill="#ff0000" /><rect x="983" y="438" width="3" height="18" fill="#ff0000" /><rect x="992" y="394" width="1" height="58" fill="#ff0000" /><rect x="991" y="394" width="3" height="49" fill="#ff0000" /><rect x="996" y="372" width="1" height="28" fill="#ff0000" /><rect x="995" y="388" width="3" height="6" fill="#ff0000" /><rect x="1000" y="379" width="1" height="21" fill="#ff0000" /><rect x="999" y="386" width="3" height="2" fill="#ff0000" /><rect x="1004" y="370" width="1" height="33" fill="#ff0000" /><rect x="1003" y="374" width="3" height="13" fill="#ff0000" /><rect x="1008" y="350" width="1" height="27" fill="#ff0000" /><rect x="1007" y="367" width="3" height="9" fill="#ff0000" /><rect x="1012" y="368" width="1" height="3" fill="#ff0000" /><rect x="1011" y="369" width="3" height="1" fill="#ff0000" /><rect x="1016" y="360" width="1" height="20" fill="#00fa7e" /><rect x="1015" y="369" width="3" height="4" fill="#00fa7e" /><rect x="1020" y="353" width="1" height="30" fill="#00fa7e" /><rect x="1019" y="372" width="3" height="11" fill="#00fa7e" /><rect x="1024" y="343" width="1" height="66" fill="#ff0000" /><rect x="1023" y="352" width="3" height="31" fill="#ff0000" /><rect x="1028" y="319" width="1" height="35" fill="#ff0000" /><rect x="1027" y="340" width="3" height="13" fill="#ff0000" /><rect x="1032" y="307" width="1" height="42" fill="#00fa7e" /><rect x="1031" y="340" width="3" height="8" fill="#00fa7e" /><rect x="1036" y="346" width="1" height="3" fill="#00fa7e" /><rect x="1035" y="346" width="3" height="2" fill="#00fa7e" /><rect x="1040" y="318" width="1" height="41" fill="#ff0000" /><rect x="1039" y="339" width="3" height="10" fill="#ff0000" /><rect x="1044" y="291" width="1" height="68" fill="#ff0000" /><rect x="1043" y="297" width="3" height="43" fill="#ff0000" /><rect x="1048" y="258" width="1" height="48" fill="#ff0000" /><rect x="1047" y="276" width="3" height="22" fill="#ff0000" /><rect x="1052" y="276" width="1" height="60" fill="#00fa7e" /><rect x="1051" y="276" width="3" height="54" fill="#00fa7e" /><rect x="1056" y="301" width="1" height="47" fill="#00fa7e" /><rect x="1055" y="330" width="3" height="15" fill="#00fa7e" /><rect x="1060" y="336" width="1" height="6" fill="#ff0000" /><rect x="1059" y="338" width="3" height="3" fill="#ff0000" /><rect x="1064" y="318" width="1" height="23" fill="#ff0000" /><rect x="1063" y="326" width="3" height="14" fill="#ff0000" /><rect x="1068" y="289" width="1" height="71" fill="#00fa7e" /><rect x="1067" y="326" width="3" height="14" fill="#00fa7e" /><rect x="1072" y="268" width="1" height="74" fill="#ff0000" /><rect x="1071" y="278" width="3" height="63" fill="#ff0000" /><rect x="1076" y="260" width="1" height="36" fill="#ff0000" /><rect x="1075" y="274" width="3" height="5" fill="#ff0000" /><rect x="1080" y="269" width="1" height="41" fill="#00fa7e" /><rect x="1079" y="272" width="3" height="34" fill="#00fa7e" /><rect x="1084" y="304" width="1" height="4" fill="#00fa7e" /><rect x="1083" y="305" width="3" height="2" fill="#00fa7e" /><rect x="1088" y="261" width="1" height="56" fill="#ff0000" /><rect x="1087" y="266" width="3" height="40" fill="#ff0000" /><rect x="1092" y="257" width="1" height="22" fill="#00fa7e" /><rect x="1091" y="266" width="3" height="8" fill="#00fa7e" /><rect x="1096" y="272" width="1" height="43" fill="#00fa7e" /><rect x="1095" y="273" width="3" height="20" fill="#00fa7e" /><rect x="1100" y="275" width="1" height="26" fill="#ff0000" /><rect x="1099" y="288" width="3" height="5" fill="#ff0000" /><rect x="1104" y="260" width="1" height="41" fill="#00fa7e" /><rect x="1103" y="288" width="3" height="2" fill="#00fa7e" /><rect x="1108" y="273" width="1" height="5" fill="#00fa7e" /><rect x="1107" y="274" width="3" height="2" fill="#00fa7e" /><rect x="1112" y="275" width="1" height="44" fill="#00fa7e" /><rect x="1111" y="275" width="3" height="41" fill="#00fa7e" /><rect x="1116" y="284" width="1" height="50" fill="#ff0000" /><rect x="1115" y="293" width="3" height="23" fill="#ff0000" /><rect x="1120" y="273" width="1" height="22" fill="#ff0000" /><rect x="1119" y="280" width="3" height="15" fill="#ff0000" /><rect x="1124" y="273" width="1" height="30" fill="#00fa7e" /><rect x="1123" y="280" width="3" height="17" fill="#00fa7e" /><rect x="1128" y="293" width="1" height="7" fill="#ff0000" /><rect x="1127" y="294" width="3" height="2" fill="#ff0000" /><polyline points="-3.5,505.2 0.5,508.7 4.5,510.9 8.5,513.6 12.5,515.4 16.5,518.4 20.5,517.3 24.5,517.0 28.5,514.6 32.5,512.6 36.5,510.2 40.5,509.9 44.5,506.1 48.5,502.2 52.5,498.0 56.5,496.0 60.5,492.9 64.5,488.2 68.5,481.6 72.5,474.5 76.5,466.3 80.5,459.6 84.5,453.1 88.5,447.7 92.5,441.2 96.5,437.1 100.5,431.7 104.5,430.3 108.5,427.8 112.5,425.8 116.5,422.9 120.5,418.3 124.5,409.9 128.5,404.8 132.5,399.7 136.5,396.5 140.5,392.1 144.5,390.3 148.5,387.8 152.5,384.7 156.5,381.6 160.5,375.0 164.5,371.1 168.5,369.1 172.5,365.5 176.5,363.4 180.5,358.4 184.5,352.8 188.5,347.2 192.5,342.2 196.5,336.9 200.5,332.6 204.5,331.0 208.5,329.6 212.5,324.4 216.5,319.9 220.5,318.1 224.5,315.5 228.5,308.2 232.5,301.6 236.5,295.1 240.5,289.6 244.5,287.5 248.5,282.6 252.5,275.8 256.5,269.0 260.5,261.4 264.5,253.9 268.5,244.9 272.5,235.3 276.5,225.7 280.5,216.7 284.5,207.0 288.5,194.0 292.5,182.3 296.5,174.3 300.5,167.3 304.5,156.8 308.5,147.6 312.5,145.2 316.5,144.7 320.5,144.4 324.5,146.2 328.5,150.1 332.5,155.5 336.5,160.8 340.5,166.5 344.5,172.8 348.5,179.6 352.5,189.7 356.5,200.0 360.5,209.4 364.5,219.0 368.5,228.1 372.5,237.9 376.5,246.6 380.5,255.0 384.5,263.3 388.5,275.4 392.5,287.9 396.5,294.5 400.5,298.2 404.5,305.2 408.5,310.5 412.5,315.2 416.5,318.6 420.5,322.4 424.5,326.7 428.5,328.4 432.5,327.3 436.5,327.1 440.5,326.6 444.5,325.8 448.5,326.9 452.5,327.5 456.5,327.5 460.5,330.8 464.5,334.1 468.5,337.8 472.5,338.3 476.5,339.9 480.5,340.9 484.5,345.1 488.5,345.4 492.5,343.6 496.5,341.4 500.5,340.0 504.5,338.5 508.5,333.2 512.5,331.1 516.5,331.1 520.5,328.4 524.5,323.4 528.5,319.1 532.5,313.7 536.5,308.7 540.5,306.0 544.5,302.5 548.5,300.7 552.5,297.6 556.5,293.2 560.5,288.0 564.5,284.5 568.5,278.9 572.5,274.0 576.5,268.3 580.5,260.6 584.5,252.0 588.5,245.1 592.5,242.8 596.5,238.8 600.5,235.1 604.5,235.3 608.5,238.2 612.5,242.2 616.5,244.3 620.5,246.6 624.5,247.3 628.5,246.5 632.5,244.3 636.5,244.9 640.5,245.6 644.5,246.3 648.5,245.1 652.5,244.7 656.5,243.4 660.5,243.4 664.5,245.1 668.5,247.5 672.5,248.1 676.5,248.1 680.5,250.1 684.5,250.1 688.5,245.8 692.5,241.9 696.5,237.4 700.5,233.7 704.5,230.5 708.5,229.7 712.5,228.2 716.5,225.2 720.5,221.7 724.5,217.4 728.5,213.4 732.5,210.5 736.5,206.3 740.5,202.3 744.5,200.7 748.5,198.2 752.5,194.2 756.5,191.5 760.5,189.7 764.5,186.2 768.5,185.8 772.5,187.2 776.5,188.8 780.5,190.4 784.5,191.1 788.5,190.4 792.5,188.6 796.5,188.4 800.5,189.4 804.5,187.5 808.5,186.1 812.5,183.5 816.5,181.9 820.5,180.5 824.5,181.2 828.5,182.1 832.5,182.6 836.5,186.3 840.5,192.0 844.5,197.2 848.5,203.4 852.5,208.3 856.5,211.8 860.5,214.9 864.5,214.5 868.5,215.3 872.5,217.4 876.5,219.7 880.5,225.1 884.5,232.9 888.5,241.5 892.5,251.2 896.5,261.8 900.5,272.4 904.5,284.7 908.5,295.3 912.5,304.8 916.5,315.0 920.5,321.8 924.5,327.0 928.5,333.6 932.5,340.2 936.5,346.2 940.5,354.0 944.5,360.8 948.5,369.7 952.5,379.7 956.5,390.1 960.5,400.5 964.5,407.8 968.5,411.9 972.5,415.6 976.5,420.0 980.5,424.6 984.5,428.1 988.5,430.1 992.5,429.0 996.5,427.3 1000.5,425.6 1004.5,424.8 1008.5,422.5 1012.5,419.0 1016.5,415.5 1020.5,413.6 1024.5,410.0 1028.5,406.7 1032.5,404.4 1036.5,400.8 1040.5,396.2 1044.5,388.6 1048.5,380.0 1052.5,374.5 1056.5,370.8 1060.5,365.9 1064.5,359.7 1068.5,355.0 1072.5,347.1 1076.5,341.4 1080.5,337.5 1084.5,333.8 1088.5,328.6 1092.5,324.2 1096.5,320.6 1100.5,316.5 1104.5,312.1 1108.5,308.5 1112.5,307.3 1116.5,304.6 1120.5,301.4 1124.5,299.4 1128.5,299.3" fill="none" stroke="#ffff00" stroke-width="1"/><polyline points="-3.5,526.6 0.5,529.1 4.5,530.0 8.5,528.5 12.5,526.9 16.5,525.4 20.5,520.6 24.5,518.3 28.5,517.9 32.5,516.7 36.5,513.6 40.5,508.9 44.5,500.3 48.5,488.6 52.5,477.6 56.5,469.0 60.5,461.7 64.5,455.6 68.5,451.4 72.5,445.3 76.5,443.5 80.5,440.5 84.5,436.8 88.5,432.5 92.5,425.0 96.5,417.8 100.5,413.8 104.5,412.8 108.5,413.0 112.5,412.5 116.5,411.7 120.5,408.8 124.5,401.3 128.5,395.7 132.5,388.6 136.5,382.9 140.5,377.6 144.5,375.5 148.5,375.4 152.5,372.9 156.5,370.1 160.5,360.6 164.5,355.4 168.5,351.8 172.5,346.4 176.5,342.6 180.5,340.6 184.5,335.8 188.5,334.1 192.5,331.7 196.5,329.7 200.5,325.2 204.5,323.6 208.5,318.5 212.5,309.9 216.5,305.9 220.5,303.4 224.5,297.2 228.5,289.5 232.5,282.7 236.5,277.9 240.5,275.2 244.5,271.0 248.5,265.8 252.5,260.1 256.5,251.0 260.5,238.3 264.5,227.1 268.5,216.6 272.5,207.2 276.5,193.2 280.5,181.4 284.5,173.4 288.5,162.2 292.5,149.3 296.5,137.0 300.5,125.6 304.5,114.8 308.5,104.9 312.5,103.8 316.5,107.6 320.5,113.6 324.5,127.2 328.5,143.3 332.5,160.5 336.5,176.4 340.5,190.3 344.5,206.4 348.5,223.0 352.5,239.6 356.5,256.2 360.5,272.0 364.5,288.6 368.5,297.7 372.5,302.1 376.5,302.6 380.5,300.2 384.5,295.4 388.5,294.7 392.5,295.5 396.5,295.9 400.5,295.8 404.5,302.1 408.5,308.3 412.5,316.1 416.5,324.3 420.5,331.4 424.5,338.3 428.5,342.1 432.5,344.1 436.5,347.8 440.5,351.1 444.5,347.7 448.5,347.0 452.5,347.1 456.5,346.0 460.5,341.0 464.5,335.8 468.5,329.2 472.5,324.2 476.5,321.8 480.5,317.2 484.5,320.9 488.5,329.2 492.5,333.1 496.5,338.3 500.5,345.6 504.5,348.8 508.5,346.9 512.5,347.5 516.5,344.6 520.5,339.3 524.5,329.5 528.5,318.8 532.5,307.8 536.5,298.8 540.5,287.3 544.5,276.7 548.5,271.4 552.5,263.6 556.5,254.0 560.5,246.0 564.5,244.2 568.5,242.5 572.5,243.6 576.5,242.9 580.5,244.2 584.5,245.1 588.5,245.9 592.5,248.0 596.5,246.7 600.5,243.5 604.5,241.2 608.5,240.4 612.5,242.3 616.5,242.2 620.5,241.9 624.5,240.0 628.5,235.3 632.5,235.3 636.5,239.9 640.5,244.2 644.5,247.7 648.5,247.7 652.5,251.4 656.5,255.9 660.5,255.0 664.5,254.6 668.5,253.0 672.5,251.7 676.5,250.2 680.5,250.8 684.5,249.0 688.5,243.4 692.5,235.9 696.5,230.0 700.5,223.4 704.5,220.0 708.5,217.5 712.5,212.6 716.5,208.0 720.5,204.8 724.5,199.1 728.5,195.6 732.5,191.4 736.5,185.7 740.5,184.1 744.5,187.4 748.5,189.1 752.5,188.2 756.5,188.4 760.5,189.0 764.5,185.6 768.5,185.4 772.5,186.5 776.5,186.6 780.5,189.6 784.5,190.0 788.5,189.8 792.5,191.0 796.5,191.7 800.5,190.9 804.5,188.7 808.5,186.9 812.5,183.5 816.5,179.8 820.5,177.1 824.5,177.1 828.5,179.7 832.5,179.8 836.5,182.1 840.5,189.8 844.5,199.2 848.5,207.7 852.5,215.4 856.5,220.2 860.5,227.8 864.5,232.3 868.5,237.8 872.5,243.0 876.5,249.9 880.5,257.6 884.5,267.2 888.5,277.0 892.5,284.2 896.5,288.2 900.5,292.5 904.5,299.0 908.5,307.6 912.5,319.1 916.5,329.9 920.5,343.0 924.5,357.4 928.5,373.6 932.5,388.4 936.5,397.0 940.5,401.8 944.5,406.6 948.5,409.9 952.5,414.6 956.5,419.5 960.5,423.6 964.5,426.4 968.5,427.9 972.5,428.0 976.5,431.6 980.5,434.5 984.5,434.2 988.5,434.0 992.5,431.9 996.5,429.1 1000.5,427.2 1004.5,425.7 1008.5,421.6 1012.5,417.0 1016.5,410.9 1020.5,405.7 1024.5,399.0 1028.5,393.2 1032.5,386.5 1036.5,378.8 1040.5,371.7 1044.5,361.3 1048.5,352.9 1052.5,348.7 1056.5,345.8 1060.5,343.2 1064.5,340.3 1068.5,338.2 1072.5,331.4 1076.5,323.6 1080.5,320.3 1084.5,317.9 1088.5,312.1 1092.5,306.8 1096.5,303.5 1100.5,302.8 1104.5,303.8 1108.5,299.9 1112.5,297.8 1116.5,294.6 1120.5,291.4 1124.5,288.3 1128.5,289.5" fill="none" stroke="#ff0000" stroke-width="1"/><polyline points="-3.5,538.9 0.5,550.0 4.5,555.4 8.5,553.5 12.5,542.1 16.5,532.9 20.5,512.0 24.5,497.8 28.5,485.7 32.5,478.0 36.5,473.7 40.5,475.7 44.5,467.7 48.5,465.2 52.5,457.4 56.5,452.3 60.5,445.3 64.5,437.4 68.5,427.1 72.5,422.9 76.5,421.9 80.5,423.6 84.5,421.2 88.5,419.8 92.5,412.5 96.5,408.4 100.5,404.6 104.5,403.8 108.5,402.5 112.5,403.7 116.5,403.7 120.5,405.0 124.5,394.1 128.5,386.8 132.5,373.5 136.5,363.3 140.5,351.4 144.5,347.3 148.5,345.7 152.5,351.6 156.5,353.4 160.5,347.8 164.5,347.4 168.5,352.1 172.5,345.6 176.5,339.4 180.5,329.6 184.5,318.3 188.5,320.4 192.5,316.0 196.5,307.2 200.5,304.9 204.5,307.7 208.5,307.4 212.5,301.4 216.5,291.4 220.5,290.8 224.5,287.2 228.5,274.2 232.5,257.6 236.5,248.3 240.5,249.0 244.5,250.6 248.5,240.9 252.5,233.1 256.5,227.9 260.5,219.0 264.5,206.0 268.5,184.2 272.5,163.7 276.5,145.4 280.5,129.7 284.5,118.9 288.5,105.5 292.5,92.7 296.5,89.9 300.5,87.6 304.5,84.1 308.5,80.0 312.5,88.8 316.5,109.6 320.5,134.5 324.5,164.5 328.5,199.1 332.5,236.8 336.5,272.8 340.5,291.8 344.5,303.2 348.5,311.5 352.5,314.7 356.5,313.4 360.5,307.2 364.5,304.4 368.5,303.6 372.5,300.9 376.5,293.8 380.5,285.8 384.5,277.4 388.5,282.2 392.5,286.6 396.5,288.2 400.5,290.6 404.5,310.4 408.5,330.9 412.5,354.8 416.5,366.4 420.5,376.1 424.5,388.4 428.5,393.6 432.5,377.9 436.5,364.7 440.5,347.5 444.5,328.9 448.5,318.0 452.5,305.8 456.5,298.4 460.5,304.1 464.5,306.8 468.5,311.0 472.5,319.6 476.5,325.5 480.5,328.6 484.5,343.3 488.5,354.2 492.5,359.4 496.5,365.6 500.5,371.6 504.5,372.1 508.5,365.2 512.5,351.6 516.5,335.0 520.5,319.2 524.5,293.5 528.5,265.9 532.5,243.5 536.5,232.4 540.5,222.9 544.5,218.4 548.5,223.5 552.5,233.7 556.5,242.0 560.5,248.4 564.5,256.0 568.5,262.0 572.5,268.7 576.5,262.3 580.5,254.7 584.5,248.2 588.5,243.4 592.5,240.0 596.5,231.4 600.5,218.3 604.5,220.1 608.5,226.1 612.5,236.4 616.5,241.0 620.5,243.9 624.5,248.6 628.5,252.4 632.5,250.5 636.5,253.7 640.5,252.0 644.5,254.4 648.5,251.5 652.5,254.2 656.5,259.4 660.5,259.5 664.5,255.4 668.5,254.0 672.5,249.0 676.5,248.9 680.5,247.4 684.5,238.6 688.5,227.4 692.5,216.4 696.5,206.1 700.5,197.8 704.5,191.1 708.5,187.6 712.5,186.6 716.5,188.6 720.5,193.1 724.5,192.1 728.5,193.4 732.5,191.6 736.5,183.9 740.5,181.6 744.5,186.2 748.5,185.0 752.5,184.4 756.5,183.4 760.5,186.3 764.5,187.3 768.5,189.3 772.5,186.8 776.5,188.1 780.5,194.9 784.5,196.6 788.5,193.4 792.5,194.8 796.5,194.2 800.5,195.1 804.5,189.2 808.5,179.0 812.5,170.4 816.5,166.1 820.5,159.4 824.5,160.1 828.5,164.4 832.5,170.4 836.5,185.1 840.5,209.1 844.5,232.2 848.5,256.0 852.5,270.6 856.5,276.1 860.5,285.1 864.5,279.4 868.5,266.4 872.5,253.7 876.5,243.7 880.5,244.6 884.5,258.4 888.5,269.0 892.5,289.1 896.5,309.9 900.5,331.4 904.5,354.4 908.5,370.6 912.5,379.9 916.5,390.9 920.5,396.9 924.5,404.8 928.5,415.9 932.5,422.4 936.5,423.4 940.5,423.6 944.5,422.4 948.5,422.9 952.5,424.4 956.5,423.1 960.5,424.8 964.5,429.4 968.5,432.1 972.5,433.6 976.5,440.2 980.5,444.7 984.5,445.3 988.5,443.2 992.5,434.4 996.5,426.1 1000.5,420.9 1004.5,411.1 1008.5,398.5 1012.5,388.6 1016.5,378.6 1020.5,377.1 1024.5,371.9 1028.5,365.5 1032.5,361.8 1036.5,359.1 1040.5,354.8 1044.5,343.9 1048.5,328.6 1052.5,325.5 1056.5,326.1 1060.5,324.6 1064.5,321.5 1068.5,321.6 1072.5,318.9 1076.5,318.6 1080.5,315.1 1084.5,309.7 1088.5,299.5 1092.5,292.1 1096.5,285.3 1100.5,286.8 1104.5,289.0 1108.5,284.7 1112.5,286.0 1116.5,289.8 1120.5,290.6 1124.5,291.2 1128.5,292.1" fill="none" stroke="#0000ff" stroke-width="1"/></g><rect x="4" y="48" width="1415" height="3" fill="#ff0000" /><rect x="3" y="46" width="7" height="7" fill="#ff0000" /><rect x="6" y="49" width="1" height="1" fill="#fff" /><rect x="1413" y="46" width="7" height="7" fill="#ff0000" /><rect x="1416" y="49" width="1" height="1" fill="#fff" /><rect x="1419" y="48" width="1" height="3" fill="#fff" /><rect x="4" y="142" width="1415" height="3" fill="#ff0000" /><rect x="3" y="140" width="7" height="7" fill="#ff0000" /><rect x="6" y="143" width="1" height="1" fill="#fff" /><rect x="1413" y="140" width="7" height="7" fill="#ff0000" /><rect x="1416" y="143" width="1" height="1" fill="#fff" /><rect x="1419" y="142" width="1" height="3" fill="#fff" /><rect x="4" y="254" width="1415" height="3" fill="#00ff00" /><rect x="3" y="252" width="7" height="7" fill="#00ff00" /><rect x="6" y="255" width="1" height="1" fill="#fff" /><rect x="1413" y="252" width="7" height="7" fill="#00ff00" /><rect x="1416" y="255" width="1" height="1" fill="#fff" /><rect x="1419" y="254" width="1" height="3" fill="#fff" /><rect x="4" y="360" width="1415" height="3" fill="#0000ff" /><rect x="3" y="358" width="7" height="7" fill="#0000ff" /><rect x="6" y="361" width="1" height="1" fill="#fff" /><rect x="1413" y="358" width="7" height="7" fill="#0000ff" /><rect x="1416" y="361" width="1" height="1" fill="#fff" /><rect x="1419" y="360" width="1" height="3" fill="#fff" /><rect x="4" y="476" width="1415" height="3" fill="#0000ff" /><polygon points="1129.5,25 1139.5,25 1134.5,30" fill="#c0c0c0"/><rect x="1420" y="32" width="2" height="1" fill="#000" /><text x="1425.3" y="36" font-size="10" fill="#000" textLength="32.4" lengthAdjust="spacingAndGlyphs" >1.36935</text><rect x="1420" y="65" width="2" height="1" fill="#000" /><text x="1425.3" y="69" font-size="10" fill="#000" textLength="32.4" lengthAdjust="spacingAndGlyphs" >1.36410</text><rect x="1420" y="98" width="2" height="1" fill="#000" /><text x="1425.3" y="102" font-size="10" fill="#000" textLength="32.4" lengthAdjust="spacingAndGlyphs" >1.35900</text><rect x="1420" y="131" width="2" height="1" fill="#000" /><text x="1425.3" y="135" font-size="10" fill="#000" textLength="32.4" lengthAdjust="spacingAndGlyphs" >1.35390</text><rect x="1420" y="164" width="2" height="1" fill="#000" /><text x="1425.3" y="168" font-size="10" fill="#000" textLength="32.4" lengthAdjust="spacingAndGlyphs" >1.34880</text><rect x="1420" y="197" width="2" height="1" fill="#000" /><text x="1425.3" y="201" font-size="10" fill="#000" textLength="32.4" lengthAdjust="spacingAndGlyphs" >1.34355</text><rect x="1420" y="230" width="2" height="1" fill="#000" /><text x="1425.3" y="234" font-size="10" fill="#000" textLength="32.4" lengthAdjust="spacingAndGlyphs" >1.33845</text><rect x="1420" y="263" width="2" height="1" fill="#000" /><text x="1425.3" y="267" font-size="10" fill="#000" textLength="32.4" lengthAdjust="spacingAndGlyphs" >1.33335</text><rect x="1420" y="296" width="2" height="1" fill="#000" /><text x="1425.3" y="300" font-size="10" fill="#000" textLength="32.4" lengthAdjust="spacingAndGlyphs" >1.32815</text><rect x="1420" y="329" width="2" height="1" fill="#000" /><text x="1425.3" y="333" font-size="10" fill="#000" textLength="32.4" lengthAdjust="spacingAndGlyphs" >1.32300</text><rect x="1420" y="362" width="2" height="1" fill="#000" /><text x="1425.3" y="366" font-size="10" fill="#000" textLength="32.4" lengthAdjust="spacingAndGlyphs" >1.31790</text><rect x="1420" y="395" width="2" height="1" fill="#000" /><text x="1425.3" y="399" font-size="10" fill="#000" textLength="32.4" lengthAdjust="spacingAndGlyphs" >1.31280</text><rect x="1420" y="428" width="2" height="1" fill="#000" /><text x="1425.3" y="432" font-size="10" fill="#000" textLength="32.4" lengthAdjust="spacingAndGlyphs" >1.30770</text><rect x="1420" y="461" width="2" height="1" fill="#000" /><text x="1425.3" y="465" font-size="10" fill="#000" textLength="32.4" lengthAdjust="spacingAndGlyphs" >1.30245</text><rect x="1420" y="494" width="2" height="1" fill="#000" /><text x="1425.3" y="498" font-size="10" fill="#000" textLength="32.4" lengthAdjust="spacingAndGlyphs" >1.29735</text><rect x="1420" y="527" width="2" height="1" fill="#000" /><text x="1425.3" y="531" font-size="10" fill="#000" textLength="32.4" lengthAdjust="spacingAndGlyphs" >1.29225</text><rect x="1420" y="560" width="2" height="1" fill="#000" /><text x="1425.3" y="564" font-size="10" fill="#000" textLength="32.4" lengthAdjust="spacingAndGlyphs" >1.28715</text><rect x="1421" y="43" width="41" height="11" fill="#ff0000" /><text x="1425.5" y="52" font-size="10" fill="#fff" textLength="32.3" lengthAdjust="spacingAndGlyphs" >1.36667</text><rect x="1421" y="137" width="41" height="11" fill="#ff0000" /><text x="1425.5" y="146" font-size="10" fill="#fff" textLength="32.3" lengthAdjust="spacingAndGlyphs" >1.35200</text><rect x="1421" y="249" width="41" height="11" fill="#00ff00" /><text x="1425.5" y="258" font-size="10" fill="#fff" textLength="32.3" lengthAdjust="spacingAndGlyphs" >1.33459</text><rect x="1421" y="355" width="41" height="11" fill="#0000ff" /><text x="1425.5" y="364" font-size="10" fill="#fff" textLength="32.3" lengthAdjust="spacingAndGlyphs" >1.31801</text><rect x="1421" y="471" width="41" height="11" fill="#0000ff" /><text x="1425.5" y="480" font-size="10" fill="#fff" textLength="32.3" lengthAdjust="spacingAndGlyphs" >1.30004</text><rect x="1421" y="288" width="41" height="11" fill="#000" /><text x="1425.5" y="297" font-size="10" fill="#fff" textLength="32.3" lengthAdjust="spacingAndGlyphs" >1.32860</text><g clip-path="url(#cmacd)" shape-rendering="crispEdges"><rect x="4" y="620" width="1" height="21" fill="#c0c0c0" /><rect x="8" y="620" width="1" height="18" fill="#c0c0c0" /><rect x="12" y="620" width="1" height="16" fill="#c0c0c0" /><rect x="16" y="620" width="1" height="14" fill="#c0c0c0" /><rect x="20" y="620" width="1" height="8" fill="#c0c0c0" /><rect x="24" y="620" width="1" height="4" fill="#c0c0c0" /><rect x="32" y="618" width="1" height="2" fill="#c0c0c0" /><rect x="36" y="618" width="1" height="2" fill="#c0c0c0" /><rect x="44" y="618" width="1" height="2" fill="#c0c0c0" /><rect x="48" y="614" width="1" height="6" fill="#c0c0c0" /><rect x="52" y="610" width="1" height="10" fill="#c0c0c0" /><rect x="56" y="607" width="1" height="13" fill="#c0c0c0" /><rect x="60" y="605" width="1" height="15" fill="#c0c0c0" /><rect x="64" y="605" width="1" height="15" fill="#c0c0c0" /><rect x="68" y="606" width="1" height="14" fill="#c0c0c0" /><rect x="72" y="606" width="1" height="14" fill="#c0c0c0" /><rect x="76" y="605" width="1" height="15" fill="#c0c0c0" /><rect x="80" y="605" width="1" height="15" fill="#c0c0c0" /><rect x="84" y="603" width="1" height="17" fill="#c0c0c0" /><rect x="88" y="602" width="1" height="18" fill="#c0c0c0" /><rect x="92" y="601" width="1" height="19" fill="#c0c0c0" /><rect x="96" y="602" width="1" height="18" fill="#c0c0c0" /><rect x="100" y="602" width="1" height="18" fill="#c0c0c0" /><rect x="104" y="604" width="1" height="16" fill="#c0c0c0" /><rect x="108" y="604" width="1" height="16" fill="#c0c0c0" /><rect x="112" y="604" width="1" height="16" fill="#c0c0c0" /><rect x="116" y="605" width="1" height="15" fill="#c0c0c0" /><rect x="120" y="604" width="1" height="16" fill="#c0c0c0" /><rect x="124" y="601" width="1" height="19" fill="#c0c0c0" /><rect x="128" y="600" width="1" height="20" fill="#c0c0c0" /><rect x="132" y="597" width="1" height="23" fill="#c0c0c0" /><rect x="136" y="596" width="1" height="24" fill="#c0c0c0" /><rect x="140" y="594" width="1" height="26" fill="#c0c0c0" /><rect x="144" y="597" width="1" height="23" fill="#c0c0c0" /><rect x="148" y="599" width="1" height="21" fill="#c0c0c0" /><rect x="152" y="602" width="1" height="18" fill="#c0c0c0" /><rect x="156" y="603" width="1" height="17" fill="#c0c0c0" /><rect x="160" y="598" width="1" height="22" fill="#c0c0c0" /><rect x="164" y="598" width="1" height="22" fill="#c0c0c0" /><rect x="168" y="600" width="1" height="20" fill="#c0c0c0" /><rect x="172" y="600" width="1" height="20" fill="#c0c0c0" /><rect x="176" y="600" width="1" height="20" fill="#c0c0c0" /><rect x="180" y="600" width="1" height="20" fill="#c0c0c0" /><rect x="184" y="598" width="1" height="22" fill="#c0c0c0" /><rect x="188" y="597" width="1" height="23" fill="#c0c0c0" /><rect x="192" y="597" width="1" height="23" fill="#c0c0c0" /><rect x="196" y="597" width="1" height="23" fill="#c0c0c0" /><rect x="200" y="598" width="1" height="22" fill="#c0c0c0" /><rect x="204" y="602" width="1" height="18" fill="#c0c0c0" /><rect x="208" y="603" width="1" height="17" fill="#c0c0c0" /><rect x="212" y="599" width="1" height="21" fill="#c0c0c0" /><rect x="216" y="595" width="1" height="25" fill="#c0c0c0" /><rect x="220" y="597" width="1" height="23" fill="#c0c0c0" /><rect x="224" y="597" width="1" height="23" fill="#c0c0c0" /><rect x="228" y="594" width="1" height="26" fill="#c0c0c0" /><rect x="232" y="593" width="1" height="27" fill="#c0c0c0" /><rect x="236" y="593" width="1" height="27" fill="#c0c0c0" /><rect x="240" y="594" width="1" height="26" fill="#c0c0c0" /><rect x="244" y="594" width="1" height="26" fill="#c0c0c0" /><rect x="248" y="594" width="1" height="26" fill="#c0c0c0" /><rect x="252" y="593" width="1" height="27" fill="#c0c0c0" /><rect x="256" y="591" width="1" height="29" fill="#c0c0c0" /><rect x="260" y="589" width="1" height="31" fill="#c0c0c0" /><rect x="264" y="586" width="1" height="34" fill="#c0c0c0" /><rect x="268" y="581" width="1" height="39" fill="#c0c0c0" /><rect x="272" y="577" width="1" height="43" fill="#c0c0c0" /><rect x="276" y="575" width="1" height="45" fill="#c0c0c0" /><rect x="280" y="574" width="1" height="46" fill="#c0c0c0" /><rect x="284" y="574" width="1" height="46" fill="#c0c0c0" /><rect x="288" y="573" width="1" height="47" fill="#c0c0c0" /><rect x="292" y="572" width="1" height="48" fill="#c0c0c0" /><rect x="296" y="572" width="1" height="48" fill="#c0c0c0" /><rect x="300" y="573" width="1" height="47" fill="#c0c0c0" /><rect x="304" y="574" width="1" height="46" fill="#c0c0c0" /><rect x="308" y="575" width="1" height="45" fill="#c0c0c0" /><rect x="312" y="582" width="1" height="38" fill="#c0c0c0" /><rect x="316" y="592" width="1" height="28" fill="#c0c0c0" /><rect x="320" y="601" width="1" height="19" fill="#c0c0c0" /><rect x="324" y="612" width="1" height="8" fill="#c0c0c0" /><rect x="328" y="620" width="1" height="2" fill="#c0c0c0" /><rect x="332" y="620" width="1" height="11" fill="#c0c0c0" /><rect x="336" y="620" width="1" height="17" fill="#c0c0c0" /><rect x="340" y="620" width="1" height="20" fill="#c0c0c0" /><rect x="344" y="620" width="1" height="23" fill="#c0c0c0" /><rect x="348" y="620" width="1" height="24" fill="#c0c0c0" /><rect x="352" y="620" width="1" height="26" fill="#c0c0c0" /><rect x="356" y="620" width="1" height="26" fill="#c0c0c0" /><rect x="360" y="620" width="1" height="26" fill="#c0c0c0" /><rect x="364" y="620" width="1" height="26" fill="#c0c0c0" /><rect x="368" y="620" width="1" height="25" fill="#c0c0c0" /><rect x="372" y="620" width="1" height="23" fill="#c0c0c0" /><rect x="376" y="620" width="1" height="19" fill="#c0c0c0" /><rect x="380" y="620" width="1" height="16" fill="#c0c0c0" /><rect x="384" y="620" width="1" height="13" fill="#c0c0c0" /><rect x="388" y="620" width="1" height="16" fill="#c0c0c0" /><rect x="392" y="620" width="1" height="18" fill="#c0c0c0" /><rect x="396" y="620" width="1" height="18" fill="#c0c0c0" /><rect x="400" y="620" width="1" height="18" fill="#c0c0c0" /><rect x="404" y="620" width="1" height="22" fill="#c0c0c0" /><rect x="408" y="620" width="1" height="26" fill="#c0c0c0" /><rect x="412" y="620" width="1" height="31" fill="#c0c0c0" /><rect x="416" y="620" width="1" height="33" fill="#c0c0c0" /><rect x="420" y="620" width="1" height="34" fill="#c0c0c0" /><rect x="424" y="620" width="1" height="34" fill="#c0c0c0" /><rect x="428" y="620" width="1" height="30" fill="#c0c0c0" /><rect x="432" y="620" width="1" height="22" fill="#c0c0c0" /><rect x="436" y="620" width="1" height="18" fill="#c0c0c0" /><rect x="440" y="620" width="1" height="14" fill="#c0c0c0" /><rect x="444" y="620" width="1" height="10" fill="#c0c0c0" /><rect x="448" y="620" width="1" height="9" fill="#c0c0c0" /><rect x="452" y="620" width="1" height="7" fill="#c0c0c0" /><rect x="456" y="620" width="1" height="5" fill="#c0c0c0" /><rect x="460" y="620" width="1" height="4" fill="#c0c0c0" /><rect x="464" y="620" width="1" height="4" fill="#c0c0c0" /><rect x="468" y="620" width="1" height="5" fill="#c0c0c0" /><rect x="472" y="620" width="1" height="6" fill="#c0c0c0" /><rect x="476" y="620" width="1" height="8" fill="#c0c0c0" /><rect x="480" y="620" width="1" height="7" fill="#c0c0c0" /><rect x="484" y="620" width="1" height="11" fill="#c0c0c0" /><rect x="488" y="620" width="1" height="13" fill="#c0c0c0" /><rect x="492" y="620" width="1" height="13" fill="#c0c0c0" /><rect x="496" y="620" width="1" height="13" fill="#c0c0c0" /><rect x="500" y="620" width="1" height="14" fill="#c0c0c0" /><rect x="504" y="620" width="1" height="14" fill="#c0c0c0" /><rect x="508" y="620" width="1" height="8" fill="#c0c0c0" /><rect x="512" y="620" width="1" height="4" fill="#c0c0c0" /><rect x="520" y="615" width="1" height="5" fill="#c0c0c0" /><rect x="524" y="607" width="1" height="13" fill="#c0c0c0" /><rect x="528" y="601" width="1" height="19" fill="#c0c0c0" /><rect x="532" y="598" width="1" height="22" fill="#c0c0c0" /><rect x="536" y="596" width="1" height="24" fill="#c0c0c0" /><rect x="540" y="595" width="1" height="25" fill="#c0c0c0" /><rect x="544" y="597" width="1" height="23" fill="#c0c0c0" /><rect x="548" y="600" width="1" height="20" fill="#c0c0c0" /><rect x="552" y="602" width="1" height="18" fill="#c0c0c0" /><rect x="556" y="603" width="1" height="17" fill="#c0c0c0" /><rect x="560" y="604" width="1" height="16" fill="#c0c0c0" /><rect x="564" y="605" width="1" height="15" fill="#c0c0c0" /><rect x="568" y="607" width="1" height="13" fill="#c0c0c0" /><rect x="572" y="610" width="1" height="10" fill="#c0c0c0" /><rect x="576" y="609" width="1" height="11" fill="#c0c0c0" /><rect x="580" y="607" width="1" height="13" fill="#c0c0c0" /><rect x="584" y="604" width="1" height="16" fill="#c0c0c0" /><rect x="588" y="604" width="1" height="16" fill="#c0c0c0" /><rect x="592" y="605" width="1" height="15" fill="#c0c0c0" /><rect x="596" y="604" width="1" height="16" fill="#c0c0c0" /><rect x="600" y="603" width="1" height="17" fill="#c0c0c0" /><rect x="604" y="606" width="1" height="14" fill="#c0c0c0" /><rect x="608" y="608" width="1" height="12" fill="#c0c0c0" /><rect x="612" y="611" width="1" height="9" fill="#c0c0c0" /><rect x="616" y="613" width="1" height="7" fill="#c0c0c0" /><rect x="620" y="614" width="1" height="6" fill="#c0c0c0" /><rect x="624" y="614" width="1" height="6" fill="#c0c0c0" /><rect x="628" y="613" width="1" height="7" fill="#c0c0c0" /><rect x="632" y="613" width="1" height="7" fill="#c0c0c0" /><rect x="636" y="616" width="1" height="4" fill="#c0c0c0" /><rect x="640" y="617" width="1" height="3" fill="#c0c0c0" /><rect x="644" y="619" width="1" height="1" fill="#c0c0c0" /><rect x="648" y="618" width="1" height="2" fill="#c0c0c0" /><rect x="652" y="619" width="1" height="1" fill="#c0c0c0" /><rect x="656" y="619" width="1" height="1" fill="#c0c0c0" /><rect x="660" y="619" width="1" height="1" fill="#c0c0c0" /><rect x="664" y="618" width="1" height="2" fill="#c0c0c0" /><rect x="668" y="619" width="1" height="1" fill="#c0c0c0" /><rect x="672" y="618" width="1" height="2" fill="#c0c0c0" /><rect x="676" y="617" width="1" height="3" fill="#c0c0c0" /><rect x="680" y="618" width="1" height="2" fill="#c0c0c0" /><rect x="684" y="615" width="1" height="5" fill="#c0c0c0" /><rect x="688" y="610" width="1" height="10" fill="#c0c0c0" /><rect x="692" y="607" width="1" height="13" fill="#c0c0c0" /><rect x="696" y="606" width="1" height="14" fill="#c0c0c0" /><rect x="700" y="605" width="1" height="15" fill="#c0c0c0" /><rect x="704" y="604" width="1" height="16" fill="#c0c0c0" /><rect x="708" y="607" width="1" height="13" fill="#c0c0c0" /><rect x="712" y="607" width="1" height="13" fill="#c0c0c0" /><rect x="716" y="606" width="1" height="14" fill="#c0c0c0" /><rect x="720" y="607" width="1" height="13" fill="#c0c0c0" /><rect x="724" y="606" width="1" height="14" fill="#c0c0c0" /><rect x="728" y="607" width="1" height="13" fill="#c0c0c0" /><rect x="732" y="606" width="1" height="14" fill="#c0c0c0" /><rect x="736" y="606" width="1" height="14" fill="#c0c0c0" /><rect x="740" y="606" width="1" height="14" fill="#c0c0c0" /><rect x="744" y="609" width="1" height="11" fill="#c0c0c0" /><rect x="748" y="610" width="1" height="10" fill="#c0c0c0" /><rect x="752" y="609" width="1" height="11" fill="#c0c0c0" /><rect x="756" y="609" width="1" height="11" fill="#c0c0c0" /><rect x="760" y="611" width="1" height="9" fill="#c0c0c0" /><rect x="764" y="611" width="1" height="9" fill="#c0c0c0" /><rect x="768" y="612" width="1" height="8" fill="#c0c0c0" /><rect x="772" y="612" width="1" height="8" fill="#c0c0c0" /><rect x="776" y="614" width="1" height="6" fill="#c0c0c0" /><rect x="780" y="616" width="1" height="4" fill="#c0c0c0" /><rect x="784" y="616" width="1" height="4" fill="#c0c0c0" /><rect x="788" y="615" width="1" height="5" fill="#c0c0c0" /><rect x="792" y="615" width="1" height="5" fill="#c0c0c0" /><rect x="796" y="616" width="1" height="4" fill="#c0c0c0" /><rect x="800" y="616" width="1" height="4" fill="#c0c0c0" /><rect x="804" y="615" width="1" height="5" fill="#c0c0c0" /><rect x="808" y="612" width="1" height="8" fill="#c0c0c0" /><rect x="812" y="610" width="1" height="10" fill="#c0c0c0" /><rect x="816" y="609" width="1" height="11" fill="#c0c0c0" /><rect x="820" y="608" width="1" height="12" fill="#c0c0c0" /><rect x="824" y="611" width="1" height="9" fill="#c0c0c0" /><rect x="828" y="615" width="1" height="5" fill="#c0c0c0" /><rect x="832" y="617" width="1" height="3" fill="#c0c0c0" /><rect x="836" y="620" width="1" height="1" fill="#c0c0c0" /><rect x="840" y="620" width="1" height="8" fill="#c0c0c0" /><rect x="844" y="620" width="1" height="14" fill="#c0c0c0" /><rect x="848" y="620" width="1" height="18" fill="#c0c0c0" /><rect x="852" y="620" width="1" height="21" fill="#c0c0c0" /><rect x="856" y="620" width="1" height="20" fill="#c0c0c0" /><rect x="860" y="620" width="1" height="20" fill="#c0c0c0" /><rect x="864" y="620" width="1" height="16" fill="#c0c0c0" /><rect x="868" y="620" width="1" height="12" fill="#c0c0c0" /><rect x="872" y="620" width="1" height="10" fill="#c0c0c0" /><rect x="876" y="620" width="1" height="9" fill="#c0c0c0" /><rect x="880" y="620" width="1" height="13" fill="#c0c0c0" /><rect x="884" y="620" width="1" height="19" fill="#c0c0c0" /><rect x="888" y="620" width="1" height="23" fill="#c0c0c0" /><rect x="892" y="620" width="1" height="26" fill="#c0c0c0" /><rect x="896" y="620" width="1" height="28" fill="#c0c0c0" /><rect x="900" y="620" width="1" height="30" fill="#c0c0c0" /><rect x="904" y="620" width="1" height="34" fill="#c0c0c0" /><rect x="908" y="620" width="1" height="37" fill="#c0c0c0" /><rect x="912" y="620" width="1" height="40" fill="#c0c0c0" /><rect x="916" y="620" width="1" height="41" fill="#c0c0c0" /><rect x="920" y="620" width="1" height="40" fill="#c0c0c0" /><rect x="924" y="620" width="1" height="40" fill="#c0c0c0" /><rect x="928" y="620" width="1" height="42" fill="#c0c0c0" /><rect x="932" y="620" width="1" height="43" fill="#c0c0c0" /><rect x="936" y="620" width="1" height="41" fill="#c0c0c0" /><rect x="940" y="620" width="1" height="40" fill="#c0c0c0" /><rect x="944" y="620" width="1" height="38" fill="#c0c0c0" /><rect x="948" y="620" width="1" height="34" fill="#c0c0c0" /><rect x="952" y="620" width="1" height="33" fill="#c0c0c0" /><rect x="956" y="620" width="1" height="32" fill="#c0c0c0" /><rect x="960" y="620" width="1" height="33" fill="#c0c0c0" /><rect x="964" y="620" width="1" height="33" fill="#c0c0c0" /><rect x="968" y="620" width="1" height="32" fill="#c0c0c0" /><rect x="972" y="620" width="1" height="29" fill="#c0c0c0" /><rect x="976" y="620" width="1" height="28" fill="#c0c0c0" /><rect x="980" y="620" width="1" height="28" fill="#c0c0c0" /><rect x="984" y="620" width="1" height="26" fill="#c0c0c0" /><rect x="988" y="620" width="1" height="25" fill="#c0c0c0" /><rect x="992" y="620" width="1" height="20" fill="#c0c0c0" /><rect x="996" y="620" width="1" height="16" fill="#c0c0c0" /><rect x="1000" y="620" width="1" height="13" fill="#c0c0c0" /><rect x="1004" y="620" width="1" height="9" fill="#c0c0c0" /><rect x="1008" y="620" width="1" height="5" fill="#c0c0c0" /><rect x="1012" y="620" width="1" height="3" fill="#c0c0c0" /><rect x="1016" y="620" width="1" height="1" fill="#c0c0c0" /><rect x="1024" y="618" width="1" height="2" fill="#c0c0c0" /><rect x="1028" y="615" width="1" height="5" fill="#c0c0c0" /><rect x="1032" y="613" width="1" height="7" fill="#c0c0c0" /><rect x="1036" y="612" width="1" height="8" fill="#c0c0c0" /><rect x="1040" y="611" width="1" height="9" fill="#c0c0c0" /><rect x="1044" y="607" width="1" height="13" fill="#c0c0c0" /><rect x="1048" y="603" width="1" height="17" fill="#c0c0c0" /><rect x="1052" y="603" width="1" height="17" fill="#c0c0c0" /><rect x="1056" y="605" width="1" height="15" fill="#c0c0c0" /><rect x="1060" y="606" width="1" height="14" fill="#c0c0c0" /><rect x="1064" y="606" width="1" height="14" fill="#c0c0c0" /><rect x="1068" y="607" width="1" height="13" fill="#c0c0c0" /><rect x="1072" y="604" width="1" height="16" fill="#c0c0c0" /><rect x="1076" y="602" width="1" height="18" fill="#c0c0c0" /><rect x="1080" y="602" width="1" height="18" fill="#c0c0c0" /><rect x="1084" y="603" width="1" height="17" fill="#c0c0c0" /><rect x="1088" y="601" width="1" height="19" fill="#c0c0c0" /><rect x="1092" y="600" width="1" height="20" fill="#c0c0c0" /><rect x="1096" y="601" width="1" height="19" fill="#c0c0c0" /><rect x="1100" y="601" width="1" height="19" fill="#c0c0c0" /><rect x="1104" y="602" width="1" height="18" fill="#c0c0c0" /><rect x="1108" y="602" width="1" height="18" fill="#c0c0c0" /><rect x="1112" y="604" width="1" height="16" fill="#c0c0c0" /><rect x="1116" y="605" width="1" height="15" fill="#c0c0c0" /><rect x="1120" y="605" width="1" height="15" fill="#c0c0c0" /><rect x="1124" y="606" width="1" height="14" fill="#c0c0c0" /><rect x="1128" y="607" width="1" height="13" fill="#c0c0c0" /><polyline points="-3.5,640.3 0.5,640.6 4.5,640.8 8.5,641.1 12.5,641.3 16.5,641.1 20.5,639.8 24.5,637.6 28.5,634.7 32.5,631.5 36.5,628.6 40.5,626.2 44.5,624.0 48.5,621.5 52.5,618.8 56.5,616.5 60.5,614.4 64.5,612.7 68.5,611.3 72.5,609.9 76.5,608.3 80.5,606.8 84.5,605.6 88.5,604.7 92.5,604.0 96.5,603.7 100.5,603.5 104.5,603.2 108.5,603.1 112.5,603.0 116.5,603.1 120.5,603.2 124.5,603.1 128.5,603.1 132.5,602.5 136.5,601.8 140.5,600.8 144.5,600.0 148.5,599.4 152.5,599.0 156.5,598.8 160.5,598.4 164.5,598.2 168.5,598.6 172.5,599.0 176.5,599.7 180.5,600.0 184.5,599.9 188.5,599.4 192.5,598.8 196.5,598.7 200.5,598.6 204.5,598.8 208.5,599.1 212.5,599.0 216.5,598.5 220.5,598.4 224.5,598.3 228.5,598.0 232.5,597.6 236.5,597.0 240.5,596.2 244.5,595.2 248.5,594.7 252.5,594.4 256.5,593.7 260.5,592.8 264.5,591.9 268.5,590.5 272.5,588.7 276.5,586.6 280.5,584.4 284.5,582.2 288.5,580.0 292.5,577.9 296.5,576.0 300.5,574.5 304.5,573.7 308.5,573.4 312.5,574.2 316.5,576.3 320.5,579.3 324.5,583.6 328.5,589.2 332.5,595.7 336.5,602.9 340.5,610.3 344.5,617.9 348.5,624.7 352.5,630.7 356.5,635.7 360.5,639.5 364.5,642.1 368.5,643.7 372.5,644.3 376.5,644.2 380.5,643.4 384.5,642.2 388.5,641.2 392.5,640.3 396.5,639.4 400.5,638.5 404.5,638.3 408.5,638.6 412.5,639.9 416.5,641.8 420.5,644.1 424.5,646.0 428.5,647.3 432.5,647.8 436.5,647.8 440.5,647.0 444.5,645.1 448.5,642.7 452.5,639.9 456.5,636.6 460.5,633.3 464.5,630.5 468.5,628.5 472.5,627.1 476.5,626.4 480.5,626.1 484.5,626.3 488.5,626.9 492.5,627.9 496.5,628.9 500.5,630.1 504.5,631.1 508.5,631.4 512.5,631.0 516.5,630.2 520.5,628.4 524.5,625.5 528.5,622.0 532.5,618.1 536.5,613.8 540.5,609.4 544.5,605.9 548.5,603.2 552.5,601.2 556.5,599.9 560.5,599.5 564.5,599.9 568.5,600.9 572.5,602.5 576.5,604.0 580.5,605.1 584.5,605.6 588.5,605.9 592.5,606.1 596.5,606.1 600.5,605.9 604.5,605.7 608.5,605.5 612.5,605.7 616.5,606.4 620.5,607.4 624.5,608.5 628.5,609.4 632.5,610.5 636.5,611.9 640.5,613.3 644.5,614.5 648.5,615.3 652.5,615.9 656.5,616.6 660.5,617.1 664.5,617.6 668.5,618.2 672.5,618.4 676.5,618.4 680.5,618.2 684.5,617.9 688.5,616.9 692.5,615.6 696.5,614.1 700.5,612.6 704.5,611.0 708.5,609.8 712.5,608.7 716.5,607.4 720.5,606.5 724.5,606.0 728.5,606.0 732.5,606.1 736.5,606.2 740.5,606.5 744.5,606.6 748.5,606.9 752.5,607.3 756.5,607.5 760.5,608.0 764.5,608.5 768.5,609.1 772.5,609.8 776.5,610.7 780.5,611.5 784.5,612.3 788.5,613.0 792.5,613.7 796.5,614.2 800.5,614.8 804.5,615.1 808.5,615.1 812.5,614.7 816.5,613.9 820.5,613.0 824.5,612.4 828.5,612.4 832.5,612.5 836.5,613.1 840.5,614.6 844.5,617.0 848.5,620.1 852.5,623.7 856.5,627.2 860.5,630.5 864.5,632.8 868.5,634.5 872.5,635.4 876.5,635.5 880.5,635.4 884.5,635.5 888.5,635.7 892.5,636.3 896.5,637.3 900.5,638.9 904.5,641.3 908.5,644.3 912.5,647.7 916.5,650.9 920.5,653.3 924.5,655.3 928.5,657.1 932.5,658.7 936.5,659.9 940.5,660.6 944.5,660.6 948.5,660.0 952.5,659.1 956.5,658.2 960.5,657.4 964.5,656.4 968.5,655.2 972.5,653.9 976.5,652.5 980.5,651.4 984.5,650.5 988.5,649.6 992.5,648.2 996.5,646.3 1000.5,644.1 1004.5,641.5 1008.5,638.8 1012.5,636.0 1016.5,633.1 1020.5,630.2 1024.5,627.2 1028.5,624.4 1032.5,621.8 1036.5,619.6 1040.5,617.5 1044.5,615.5 1048.5,613.3 1052.5,611.3 1056.5,609.6 1060.5,608.2 1064.5,607.2 1068.5,606.5 1072.5,605.6 1076.5,604.6 1080.5,604.1 1084.5,604.0 1088.5,603.7 1092.5,603.2 1096.5,602.6 1100.5,602.1 1104.5,601.6 1108.5,601.3 1112.5,601.7 1116.5,602.0 1120.5,602.3 1124.5,603.0 1128.5,603.8" fill="none" stroke="#ff0000" stroke-width="1" stroke-dasharray="3 3"/></g><text x="8.3" y="578" font-size="10" fill="#000" textLength="147.5" lengthAdjust="spacingAndGlyphs" >MACD(12,26,9) 0.002424 0.003130</text><rect x="1420" y="567" width="2" height="1" fill="#000" /><rect x="1420" y="620" width="2" height="1" fill="#000" /><rect x="1420" y="667" width="2" height="1" fill="#000" /><text x="1424" y="576" font-size="10" fill="#000" textLength="37" lengthAdjust="spacingAndGlyphs" >0.010311</text><text x="1423.5" y="623.8" font-size="10" fill="#000" textLength="17" lengthAdjust="spacingAndGlyphs" >0.00</text><text x="1422.5" y="665" font-size="10" fill="#000" textLength="40" lengthAdjust="spacingAndGlyphs" >-0.009203</text><g clip-path="url(#crsi)" shape-rendering="crispEdges"><line x1="4" y1="710.5" x2="1419" y2="710.5" stroke="#c0c0c0" stroke-dasharray="3 3"/><line x1="4" y1="761.5" x2="1419" y2="761.5" stroke="#c0c0c0" stroke-dasharray="3 3"/><polyline points="-3.5,749.5 0.5,742.7 4.5,739.5 8.5,738.3 12.5,736.8 16.5,739.5 20.5,723.7 24.5,727.2 28.5,725.0 32.5,729.4 36.5,734.0 40.5,742.2 44.5,730.1 48.5,724.5 52.5,721.0 56.5,722.7 60.5,723.7 64.5,726.7 68.5,731.9 72.5,728.6 76.5,726.2 80.5,725.4 84.5,721.3 88.5,724.2 92.5,718.9 96.5,730.6 100.5,727.8 104.5,730.0 108.5,728.4 112.5,727.6 116.5,728.0 120.5,723.5 124.5,715.1 128.5,719.0 132.5,713.1 136.5,718.0 140.5,715.2 144.5,731.0 148.5,730.8 152.5,733.3 156.5,729.2 160.5,714.6 164.5,726.8 168.5,730.9 172.5,727.0 176.5,727.5 180.5,724.7 184.5,720.2 188.5,722.5 192.5,723.9 196.5,722.0 200.5,728.0 204.5,736.9 208.5,729.3 212.5,718.6 216.5,716.1 220.5,730.9 224.5,726.3 228.5,720.7 232.5,723.3 236.5,725.7 240.5,726.2 244.5,724.3 248.5,722.9 252.5,720.2 256.5,716.4 260.5,714.6 264.5,712.4 268.5,705.6 272.5,705.2 276.5,707.4 280.5,707.4 284.5,710.2 288.5,706.1 292.5,704.7 296.5,708.4 300.5,708.6 304.5,708.4 308.5,707.6 312.5,737.6 316.5,747.6 320.5,750.1 324.5,756.7 328.5,760.6 332.5,763.0 336.5,758.5 340.5,753.4 344.5,753.6 348.5,752.0 352.5,753.8 356.5,753.9 360.5,749.8 364.5,751.1 368.5,749.4 372.5,745.1 376.5,734.6 380.5,735.9 384.5,735.5 388.5,753.0 392.5,753.7 396.5,746.4 400.5,744.3 404.5,758.5 408.5,759.8 412.5,762.7 416.5,760.4 420.5,757.4 424.5,755.4 428.5,740.3 432.5,728.4 436.5,734.0 440.5,732.8 444.5,729.8 448.5,738.5 452.5,735.6 456.5,731.1 460.5,737.1 464.5,738.4 468.5,739.4 472.5,742.1 476.5,746.9 480.5,738.6 484.5,748.7 488.5,749.3 492.5,741.6 496.5,743.8 500.5,746.0 504.5,742.6 508.5,726.2 512.5,728.5 516.5,725.7 520.5,721.4 524.5,714.1 528.5,714.0 532.5,719.4 536.5,718.3 540.5,723.8 544.5,727.8 548.5,736.0 552.5,732.0 556.5,729.5 560.5,731.5 564.5,731.5 568.5,734.4 572.5,739.4 576.5,728.2 580.5,723.2 584.5,722.1 588.5,727.4 592.5,729.8 596.5,725.1 600.5,723.3 604.5,735.7 608.5,735.9 612.5,740.9 616.5,736.5 620.5,735.9 624.5,733.2 628.5,729.4 632.5,732.6 636.5,741.6 640.5,738.7 644.5,740.9 648.5,731.2 652.5,737.8 656.5,738.2 660.5,732.3 664.5,734.3 668.5,736.3 672.5,732.1 676.5,730.8 680.5,736.3 684.5,724.3 688.5,716.9 692.5,719.8 696.5,723.2 700.5,722.9 704.5,725.0 708.5,736.3 712.5,729.0 716.5,724.7 720.5,731.9 724.5,726.3 728.5,730.3 732.5,727.1 736.5,726.7 740.5,728.7 744.5,736.2 748.5,732.8 752.5,727.3 756.5,731.2 760.5,734.2 764.5,730.4 768.5,734.4 772.5,733.4 776.5,737.3 780.5,741.2 784.5,734.8 788.5,728.5 792.5,733.8 796.5,733.8 800.5,735.7 804.5,726.4 808.5,722.5 812.5,720.2 816.5,722.6 820.5,722.6 824.5,739.8 828.5,747.2 832.5,741.0 836.5,750.3 840.5,759.0 844.5,759.0 848.5,759.7 852.5,756.0 856.5,746.0 860.5,746.8 864.5,732.4 868.5,733.5 872.5,733.8 876.5,739.6 880.5,751.9 884.5,759.5 888.5,755.1 892.5,756.1 896.5,757.4 900.5,758.2 904.5,762.9 908.5,765.0 912.5,765.9 916.5,764.1 920.5,755.3 924.5,758.7 928.5,762.7 932.5,763.2 936.5,756.0 940.5,756.5 944.5,751.2 948.5,746.6 952.5,752.2 956.5,754.1 960.5,758.2 964.5,757.7 968.5,754.1 972.5,746.0 976.5,750.4 980.5,753.1 984.5,747.3 988.5,748.4 992.5,734.2 996.5,732.7 1000.5,732.0 1004.5,729.0 1008.5,727.2 1012.5,727.9 1016.5,729.4 1020.5,733.1 1024.5,724.0 1028.5,721.1 1032.5,724.1 1036.5,724.1 1040.5,721.5 1044.5,711.5 1048.5,707.7 1052.5,727.3 1056.5,731.7 1060.5,729.8 1064.5,727.0 1068.5,731.4 1072.5,718.0 1076.5,717.4 1080.5,727.0 1084.5,727.3 1088.5,719.2 1092.5,721.6 1096.5,727.1 1100.5,726.1 1104.5,726.6 1108.5,723.4 1112.5,735.3 1116.5,729.7 1120.5,726.8 1124.5,731.7 1128.5,731.0" fill="none" stroke="#1e90ff" stroke-width="1"/></g><text x="8.3" y="683" font-size="10" fill="#000" textLength="67.5" lengthAdjust="spacingAndGlyphs" >RSI(14) 54.0595</text><rect x="1420" y="672" width="2" height="1" fill="#000" /><rect x="1420" y="799" width="2" height="1" fill="#000" /><text x="1423.4" y="681" font-size="10" fill="#000" textLength="14.1" lengthAdjust="spacingAndGlyphs" >100</text><text x="1422.2" y="714" font-size="10" fill="#000" textLength="9.3" lengthAdjust="spacingAndGlyphs" >70</text><text x="1422.2" y="764.8" font-size="10" fill="#000" textLength="9.3" lengthAdjust="spacingAndGlyphs" >30</text><text x="1423" y="796.6" font-size="10" fill="#000" textLength="4.6" lengthAdjust="spacingAndGlyphs" >0</text><rect x="4" y="801" width="1" height="3" fill="#000" /><text x="3" y="813" font-size="10" fill="#000" textLength="45.8" lengthAdjust="spacingAndGlyphs" >5 Oct 2018</text><rect x="68" y="801" width="1" height="3" fill="#000" /><text x="67" y="813" font-size="10" fill="#000" textLength="51.0" lengthAdjust="spacingAndGlyphs" >24 Oct 2018</text><rect x="132" y="801" width="1" height="3" fill="#000" /><text x="131" y="813" font-size="10" fill="#000" textLength="53.1" lengthAdjust="spacingAndGlyphs" >12 Nov 2018</text><rect x="196" y="801" width="1" height="3" fill="#000" /><text x="195" y="813" font-size="10" fill="#000" textLength="53.1" lengthAdjust="spacingAndGlyphs" >30 Nov 2018</text><rect x="260" y="801" width="1" height="3" fill="#000" /><text x="259" y="813" font-size="10" fill="#000" textLength="53.1" lengthAdjust="spacingAndGlyphs" >19 Dec 2018</text><rect x="324" y="801" width="1" height="3" fill="#000" /><text x="323" y="813" font-size="10" fill="#000" textLength="46.3" lengthAdjust="spacingAndGlyphs" >7 Jan 2019</text><rect x="388" y="801" width="1" height="3" fill="#000" /><text x="387" y="813" font-size="10" fill="#000" textLength="51.5" lengthAdjust="spacingAndGlyphs" >25 Jan 2019</text><rect x="452" y="801" width="1" height="3" fill="#000" /><text x="451" y="813" font-size="10" fill="#000" textLength="52.6" lengthAdjust="spacingAndGlyphs" >13 Feb 2019</text><rect x="516" y="801" width="1" height="3" fill="#000" /><text x="515" y="813" font-size="10" fill="#000" textLength="47.3" lengthAdjust="spacingAndGlyphs" >4 Mar 2019</text><rect x="580" y="801" width="1" height="3" fill="#000" /><text x="579" y="813" font-size="10" fill="#000" textLength="52.5" lengthAdjust="spacingAndGlyphs" >22 Mar 2019</text><rect x="644" y="801" width="1" height="3" fill="#000" /><text x="643" y="813" font-size="10" fill="#000" textLength="50.5" lengthAdjust="spacingAndGlyphs" >10 Apr 2019</text><rect x="708" y="801" width="1" height="3" fill="#000" /><text x="707" y="813" font-size="10" fill="#000" textLength="50.5" lengthAdjust="spacingAndGlyphs" >30 Apr 2019</text><rect x="772" y="801" width="1" height="3" fill="#000" /><text x="771" y="813" font-size="10" fill="#000" textLength="54.1" lengthAdjust="spacingAndGlyphs" >19 May 2019</text><rect x="836" y="801" width="1" height="3" fill="#000" /><text x="835" y="813" font-size="10" fill="#000" textLength="46.3" lengthAdjust="spacingAndGlyphs" >6 Jun 2019</text><rect x="900" y="801" width="1" height="3" fill="#000" /><text x="899" y="813" font-size="10" fill="#000" textLength="51.5" lengthAdjust="spacingAndGlyphs" >25 Jun 2019</text><rect x="964" y="801" width="1" height="3" fill="#000" /><text x="963" y="813" font-size="10" fill="#000" textLength="48.4" lengthAdjust="spacingAndGlyphs" >14 Jul 2019</text><rect x="1028" y="801" width="1" height="3" fill="#000" /><text x="1027" y="813" font-size="10" fill="#000" textLength="47.4" lengthAdjust="spacingAndGlyphs" >1 Aug 2019</text><rect x="1092" y="801" width="1" height="3" fill="#000" /><text x="1091" y="813" font-size="10" fill="#000" textLength="52.6" lengthAdjust="spacingAndGlyphs" >20 Aug 2019</text><rect x="0" y="821" width="1462" height="1" fill="#e3e3e3" /><rect x="0" y="823" width="1462" height="1" fill="#000" /><rect x="0" y="824" width="1462" height="1" fill="#fff" /><rect x="0" y="825" width="1462" height="18" fill="#f0f0f0" /><rect x="0" y="843" width="1462" height="1" fill="#fafafa" /><rect x="0" y="823" width="1" height="20" fill="#6a6a6a" /><rect x="329" y="823" width="108" height="19" fill="#fff" /><rect x="329" y="823" width="1" height="19" fill="#000" /><rect x="436" y="823" width="1" height="19" fill="#000" /><rect x="329" y="841" width="108" height="1" fill="#000" /><rect x="330" y="823" width="106" height="1" fill="#fff" /><text x="16.4" y="838.3" font-size="12" fill="#6d6d6d" textLength="84.3" lengthAdjust="spacingAndGlyphs" >EURUSD-,Daily</text><text x="123" y="838.3" font-size="12" fill="#6d6d6d" textLength="86.7" lengthAdjust="spacingAndGlyphs" >AUDUSD-,Daily</text><text x="233.3" y="838.3" font-size="12" fill="#6d6d6d" textLength="83.7" lengthAdjust="spacingAndGlyphs" >USDCHF-,Daily</text><text x="340.6" y="838.3" font-size="12" fill="#000" textLength="85.4" lengthAdjust="spacingAndGlyphs" >USDCAD-,Daily</text><text x="449.2" y="838.3" font-size="12" fill="#6d6d6d" textLength="87.9" lengthAdjust="spacingAndGlyphs" >USDCNH-,Daily</text><text x="560.5" y="838.3" font-size="12" fill="#6d6d6d" textLength="96" lengthAdjust="spacingAndGlyphs" >EURCHF-,Weekly</text><text x="681.2" y="838.3" font-size="12" fill="#6d6d6d" textLength="99.7" lengthAdjust="spacingAndGlyphs" >XAUUSD-,Weekly</text><text x="804.1" y="838.3" font-size="12" fill="#6d6d6d" textLength="72.2" lengthAdjust="spacingAndGlyphs" >GBPUSD-,H1</text><text x="900.4" y="838.3" font-size="12" fill="#6d6d6d" textLength="55.8" lengthAdjust="spacingAndGlyphs" >UKOil-,H1</text><text x="979.2" y="838.3" font-size="12" fill="#6d6d6d" textLength="82.7" lengthAdjust="spacingAndGlyphs" >USDX-,Weekly</text><rect x="113" y="826" width="1" height="14" fill="#6d6d6d" /><rect x="221" y="826" width="1" height="14" fill="#6d6d6d" /><rect x="549" y="826" width="1" height="14" fill="#6d6d6d" /><rect x="669" y="826" width="1" height="14" fill="#6d6d6d" /><rect x="793" y="826" width="1" height="14" fill="#6d6d6d" /><rect x="889" y="826" width="1" height="14" fill="#6d6d6d" /><rect x="969" y="826" width="1" height="14" fill="#6d6d6d" /><rect x="1073" y="826" width="1" height="14" fill="#6d6d6d" /><polygon points="1435,832 1438,829 1438,835" fill="#909090"/><polygon points="1457,832 1454,829 1454,835" fill="#909090"/><polygon points="7,35 14,35 10.5,31" fill="#000"/><text x="19.4" y="36" font-size="10" fill="#000" textLength="68.4" lengthAdjust="spacingAndGlyphs" >USDCAD-,Daily</text><text x="94.9" y="36" font-size="10" fill="#000" textLength="139.9" lengthAdjust="spacingAndGlyphs" >1.32825 1.32879 1.32764 1.32860</text><defs>
<linearGradient id="gtop" x1="0" y1="0" x2="0" y2="1"><stop offset="0" stop-color="#5656ff"/><stop offset="1" stop-color="#3a3ae6"/></linearGradient>
<linearGradient id="gbot" x1="0" y1="0" x2="0" y2="1"><stop offset="0" stop-color="#3434e0"/><stop offset="1" stop-color="#0606a8"/></linearGradient>
<linearGradient id="gbtn" x1="0" y1="0" x2="0" y2="1"><stop offset="0" stop-color="#f4f4f4"/><stop offset="0.45" stop-color="#ebebeb"/><stop offset="0.5" stop-color="#dcdcdc"/><stop offset="1" stop-color="#d0d0d0"/></linearGradient>
</defs><rect x="5" y="42" width="223" height="68" fill="#fff" /><rect x="7" y="44" width="52" height="25" fill="url(#gtop)" /><rect x="7" y="68" width="109" height="40" fill="url(#gbot)" /><rect x="118" y="68" width="108" height="40" fill="url(#gbot)" /><rect x="174" y="44" width="52" height="25" fill="url(#gtop)" /><rect x="7" y="44" width="52" height="1" fill="#0000a0" /><rect x="7" y="44" width="1" height="25" fill="#0000a0" /><rect x="58" y="44" width="1" height="25" fill="#0000a0" /><rect x="174" y="44" width="52" height="1" fill="#0000a0" /><rect x="174" y="44" width="1" height="25" fill="#0000a0" /><rect x="225" y="44" width="1" height="25" fill="#0000a0" /><rect x="7" y="107" width="109" height="1" fill="#0000a0" /><rect x="7" y="68" width="1" height="40" fill="#0000a0" /><rect x="115" y="68" width="1" height="40" fill="#0000a0" /><rect x="118" y="107" width="108" height="1" fill="#0000a0" /><rect x="118" y="68" width="1" height="40" fill="#0000a0" /><rect x="225" y="68" width="1" height="40" fill="#0000a0" /><rect x="11" y="68" width="44" height="1" fill="#6a6aff" /><rect x="178" y="68" width="44" height="1" fill="#6a6aff" /><rect x="61" y="44" width="111" height="22" fill="#a0a0a0" /><rect x="62" y="45" width="109" height="20" fill="#fff" /><rect x="62" y="45" width="20" height="20" fill="url(#gbtn)" /><rect x="82" y="45" width="1" height="20" fill="#b4b4b4" /><rect x="151" y="45" width="20" height="20" fill="url(#gbtn)" /><rect x="150" y="45" width="1" height="20" fill="#b4b4b4" /><polygon points="68.5,53.5 74.5,53.5 71.5,56.5" fill="#5060c0"/><polygon points="157.5,56 163.5,56 160.5,53" fill="#5060c0"/><text x="123.7" y="59" font-size="12.5" fill="#000" textLength="22.8" lengthAdjust="spacingAndGlyphs" >1.00</text><text x="19.7" y="60" font-size="11.5" fill="#e8e8ff" textLength="25.1" lengthAdjust="spacingAndGlyphs" >SELL</text><text x="187.5" y="60" font-size="11.5" fill="#e8e8ff" textLength="23.7" lengthAdjust="spacingAndGlyphs" >BUY</text><text x="27.8" y="99" font-size="12" fill="#fff" textLength="22.8" lengthAdjust="spacingAndGlyphs" font-weight="bold" >1.32</text><text x="137.8" y="99" font-size="12" fill="#fff" textLength="22.8" lengthAdjust="spacingAndGlyphs" font-weight="bold" >1.32</text><text x="56" y="99" font-size="35.5" fill="#fff" textLength="33.1" lengthAdjust="spacingAndGlyphs" >86</text><text x="166.8" y="99" font-size="35.5" fill="#fff" textLength="33.2" lengthAdjust="spacingAndGlyphs" >88</text><text x="94.1" y="83.2" font-size="11.5" fill="#fff" textLength="7.1" lengthAdjust="spacingAndGlyphs" font-weight="bold" >0</text><text x="205.4" y="83.2" font-size="11.5" fill="#fff" textLength="6.6" lengthAdjust="spacingAndGlyphs" font-weight="bold" >0</text></svg></body></html>
